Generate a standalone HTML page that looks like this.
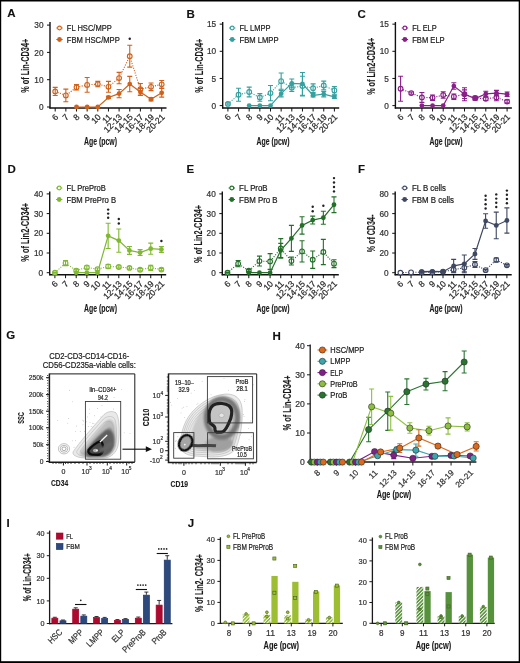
<!DOCTYPE html><html><head><meta charset="utf-8"><style>html,body{margin:0;padding:0;background:#fff;}svg{display:block;will-change:transform;}</style></head><body>
<svg width="520" height="663" viewBox="0 0 520 663" font-family='"Liberation Sans", sans-serif'>
<defs><filter id="bl" filterUnits="userSpaceOnUse" x="0" y="300" width="300" height="200"><feGaussianBlur stdDeviation="1.2"/></filter><filter id="bl2" filterUnits="userSpaceOnUse" x="0" y="300" width="300" height="200"><feGaussianBlur stdDeviation="0.5"/></filter><filter id="bl3" filterUnits="userSpaceOnUse" x="0" y="300" width="300" height="200"><feGaussianBlur stdDeviation="0.75"/></filter><pattern id="hatchL" patternUnits="userSpaceOnUse" width="2.5" height="3" patternTransform="rotate(45)"><rect width="2.5" height="3" fill="#fff"/><rect width="1.5" height="3" fill="#8fb82e"/></pattern><pattern id="hatchD" patternUnits="userSpaceOnUse" width="2.5" height="3" patternTransform="rotate(45)"><rect width="2.5" height="3" fill="#fff"/><rect width="1.5" height="3" fill="#4e8c2f"/></pattern></defs>
<rect x="0" y="0" width="520" height="663" fill="#fff"/>
<text x="7.2" y="17.4" font-size="11.5" text-anchor="start" font-weight="bold" stroke="#111" stroke-width="0.12" fill="#111">A</text>
<text x="186.5" y="17.6" font-size="11.5" text-anchor="start" font-weight="bold" stroke="#111" stroke-width="0.12" fill="#111">B</text>
<text x="357.5" y="17.6" font-size="11.5" text-anchor="start" font-weight="bold" stroke="#111" stroke-width="0.12" fill="#111">C</text>
<g stroke="#111" stroke-width="1.4" fill="none">
<path d="M50 22 V108.6"/>
<path d="M49.4 108 H166.5"/>
<path d="M47 107 H50" stroke-width="1"/>
<path d="M47 79.7 H50" stroke-width="1"/>
<path d="M47 52.4 H50" stroke-width="1"/>
<path d="M47 25.1 H50" stroke-width="1"/>
<path d="M55.2 108 V111.5" stroke-width="1"/>
<path d="M65.85 108 V111.5" stroke-width="1"/>
<path d="M76.5 108 V111.5" stroke-width="1"/>
<path d="M87.15 108 V111.5" stroke-width="1"/>
<path d="M97.8 108 V111.5" stroke-width="1"/>
<path d="M108.45 108 V111.5" stroke-width="1"/>
<path d="M119.1 108 V111.5" stroke-width="1"/>
<path d="M129.75 108 V111.5" stroke-width="1"/>
<path d="M140.4 108 V111.5" stroke-width="1"/>
<path d="M151.05 108 V111.5" stroke-width="1"/>
<path d="M161.7 108 V111.5" stroke-width="1"/>
</g>
<text x="43.5" y="110.1" font-size="8.6" text-anchor="end" stroke="#333" stroke-width="0.22" fill="#333" textLength="4.6" lengthAdjust="spacingAndGlyphs">0</text>
<text x="43.5" y="82.8" font-size="8.6" text-anchor="end" stroke="#333" stroke-width="0.22" fill="#333" textLength="9.2" lengthAdjust="spacingAndGlyphs">10</text>
<text x="43.5" y="55.5" font-size="8.6" text-anchor="end" stroke="#333" stroke-width="0.22" fill="#333" textLength="9.2" lengthAdjust="spacingAndGlyphs">20</text>
<text x="43.5" y="28.2" font-size="8.6" text-anchor="end" stroke="#333" stroke-width="0.22" fill="#333" textLength="9.2" lengthAdjust="spacingAndGlyphs">30</text>
<text x="58.8" y="117.6" font-size="8.6" text-anchor="end" stroke="#2a2a2a" stroke-width="0.22" fill="#2a2a2a" transform="rotate(-45 58.8 117.6)">6</text>
<text x="69.45" y="117.6" font-size="8.6" text-anchor="end" stroke="#2a2a2a" stroke-width="0.22" fill="#2a2a2a" transform="rotate(-45 69.45 117.6)">7</text>
<text x="80.1" y="117.6" font-size="8.6" text-anchor="end" stroke="#2a2a2a" stroke-width="0.22" fill="#2a2a2a" transform="rotate(-45 80.1 117.6)">8</text>
<text x="90.75" y="117.6" font-size="8.6" text-anchor="end" stroke="#2a2a2a" stroke-width="0.22" fill="#2a2a2a" transform="rotate(-45 90.75 117.6)">9</text>
<text x="101.4" y="117.6" font-size="8.6" text-anchor="end" stroke="#2a2a2a" stroke-width="0.22" fill="#2a2a2a" transform="rotate(-45 101.4 117.6)">10</text>
<text x="112.05" y="117.6" font-size="8.6" text-anchor="end" stroke="#2a2a2a" stroke-width="0.22" fill="#2a2a2a" transform="rotate(-45 112.05 117.6)">11</text>
<text x="122.7" y="117.6" font-size="8.6" text-anchor="end" stroke="#2a2a2a" stroke-width="0.22" fill="#2a2a2a" transform="rotate(-45 122.7 117.6)">12-13</text>
<text x="133.35" y="117.6" font-size="8.6" text-anchor="end" stroke="#2a2a2a" stroke-width="0.22" fill="#2a2a2a" transform="rotate(-45 133.35 117.6)">14-15</text>
<text x="144" y="117.6" font-size="8.6" text-anchor="end" stroke="#2a2a2a" stroke-width="0.22" fill="#2a2a2a" transform="rotate(-45 144 117.6)">16-17</text>
<text x="154.65" y="117.6" font-size="8.6" text-anchor="end" stroke="#2a2a2a" stroke-width="0.22" fill="#2a2a2a" transform="rotate(-45 154.65 117.6)">18-19</text>
<text x="165.3" y="117.6" font-size="8.6" text-anchor="end" stroke="#2a2a2a" stroke-width="0.22" fill="#2a2a2a" transform="rotate(-45 165.3 117.6)">20-21</text>
<text x="29" y="65.7" font-size="10" text-anchor="middle" font-weight="bold" stroke="#1a1a1a" stroke-width="0.12" fill="#1a1a1a" textLength="54" lengthAdjust="spacingAndGlyphs" transform="rotate(-90 29 65.7)">% of Lin-CD34+</text>
<polyline points="55.2,91.44 65.85,95.4 76.5,87.34 87.15,84.89 97.8,84.07 108.45,86.8 119.1,78.06 129.75,56.22 140.4,89.25 151.05,86.8 161.7,84.34" fill="none" stroke="#d0611a" stroke-width="1.1" stroke-dasharray="1.1 1.4"/>
<polyline points="76.5,107 87.15,107 97.8,107 108.45,97.44 119.1,93.62 129.75,84.07 140.4,91.98 151.05,99.22 161.7,92.8" fill="none" stroke="#d0611a" stroke-width="1.2"/>
<circle cx="55.2" cy="91.44" r="2.35" fill="#fff" stroke="#d0611a" stroke-width="1.1"/>
<circle cx="65.85" cy="95.4" r="2.35" fill="#fff" stroke="#d0611a" stroke-width="1.1"/>
<circle cx="76.5" cy="87.34" r="2.35" fill="#fff" stroke="#d0611a" stroke-width="1.1"/>
<circle cx="87.15" cy="84.89" r="2.35" fill="#fff" stroke="#d0611a" stroke-width="1.1"/>
<circle cx="97.8" cy="84.07" r="2.35" fill="#fff" stroke="#d0611a" stroke-width="1.1"/>
<circle cx="108.45" cy="86.8" r="2.35" fill="#fff" stroke="#d0611a" stroke-width="1.1"/>
<circle cx="119.1" cy="78.06" r="2.35" fill="#fff" stroke="#d0611a" stroke-width="1.1"/>
<circle cx="129.75" cy="56.22" r="2.35" fill="#fff" stroke="#d0611a" stroke-width="1.1"/>
<circle cx="140.4" cy="89.25" r="2.35" fill="#fff" stroke="#d0611a" stroke-width="1.1"/>
<circle cx="151.05" cy="86.8" r="2.35" fill="#fff" stroke="#d0611a" stroke-width="1.1"/>
<circle cx="161.7" cy="84.34" r="2.35" fill="#fff" stroke="#d0611a" stroke-width="1.1"/>
<circle cx="76.5" cy="107" r="2.4" fill="#d0611a"/>
<circle cx="87.15" cy="107" r="2.4" fill="#d0611a"/>
<circle cx="97.8" cy="107" r="2.4" fill="#d0611a"/>
<circle cx="108.45" cy="97.44" r="2.4" fill="#d0611a"/>
<circle cx="119.1" cy="93.62" r="2.4" fill="#d0611a"/>
<circle cx="129.75" cy="84.07" r="2.4" fill="#d0611a"/>
<circle cx="140.4" cy="91.98" r="2.4" fill="#d0611a"/>
<circle cx="151.05" cy="99.22" r="2.4" fill="#d0611a"/>
<circle cx="161.7" cy="92.8" r="2.4" fill="#d0611a"/>
<g stroke="#d0611a" stroke-width="1.1" fill="none">
<path d="M55.2 87.34 V95.53 M52.7 87.34 h5 M52.7 95.53 h5"/>
<path d="M65.85 89.12 V101.68 M63.35 89.12 h5 M63.35 101.68 h5"/>
<path d="M76.5 84.61 V90.07 M74 84.61 h5 M74 90.07 h5"/>
<path d="M87.15 77.52 V92.26 M84.65 77.52 h5 M84.65 92.26 h5"/>
<path d="M97.8 81.34 V86.8 M95.3 81.34 h5 M95.3 86.8 h5"/>
<path d="M108.45 81.34 V92.26 M105.95 81.34 h5 M105.95 92.26 h5"/>
<path d="M119.1 72.33 V83.8 M116.6 72.33 h5 M116.6 83.8 h5"/>
<path d="M129.75 45.3 V67.14 M127.25 45.3 h5 M127.25 67.14 h5"/>
<path d="M140.4 83.52 V94.99 M137.9 83.52 h5 M137.9 94.99 h5"/>
<path d="M151.05 82.98 V90.62 M148.55 82.98 h5 M148.55 90.62 h5"/>
<path d="M161.7 80.52 V88.16 M159.2 80.52 h5 M159.2 88.16 h5"/>
<path d="M108.45 96.35 V98.54 M105.95 96.35 h5 M105.95 98.54 h5"/>
<path d="M119.1 89.53 V97.72 M116.6 89.53 h5 M116.6 97.72 h5"/>
<path d="M129.75 76.42 V91.71 M127.25 76.42 h5 M127.25 91.71 h5"/>
<path d="M140.4 88.44 V95.53 M137.9 88.44 h5 M137.9 95.53 h5"/>
<path d="M151.05 97.58 V100.86 M148.55 97.58 h5 M148.55 100.86 h5"/>
<path d="M161.7 88.44 V97.17 M159.2 88.44 h5 M159.2 97.17 h5"/>
</g>
<path d="M56.3 28 h6.4 M56.3 39.5 h6.4" stroke="#d0611a" stroke-width="1.1"/>
<circle cx="59.5" cy="28" r="1.9" fill="#fff" stroke="#d0611a" stroke-width="1.1"/>
<circle cx="59.5" cy="39.5" r="2.4" fill="#d0611a"/>
<text x="66.8" y="31" font-size="8.4" text-anchor="start" stroke="#222" stroke-width="0.22" fill="#222" textLength="45" lengthAdjust="spacingAndGlyphs">FL HSC/MPP</text>
<text x="66.8" y="42.5" font-size="8.4" text-anchor="start" stroke="#222" stroke-width="0.22" fill="#222" textLength="53" lengthAdjust="spacingAndGlyphs">FBM HSC/MPP</text>
<circle cx="129.75" cy="38.7" r="1.2" fill="#222"/>
<text x="100.5" y="144.8" font-size="10.2" text-anchor="middle" font-weight="bold" stroke="#1a1a1a" stroke-width="0.12" fill="#1a1a1a" textLength="33" lengthAdjust="spacingAndGlyphs">Age (pcw)</text>
<g stroke="#111" stroke-width="1.4" fill="none">
<path d="M222.7 22 V108.6"/>
<path d="M222.1 108 H339.2"/>
<path d="M219.7 105.6 H222.7" stroke-width="1"/>
<path d="M219.7 78.45 H222.7" stroke-width="1"/>
<path d="M219.7 51.3 H222.7" stroke-width="1"/>
<path d="M219.7 24.15 H222.7" stroke-width="1"/>
<path d="M227.9 108 V111.5" stroke-width="1"/>
<path d="M238.55 108 V111.5" stroke-width="1"/>
<path d="M249.2 108 V111.5" stroke-width="1"/>
<path d="M259.85 108 V111.5" stroke-width="1"/>
<path d="M270.5 108 V111.5" stroke-width="1"/>
<path d="M281.15 108 V111.5" stroke-width="1"/>
<path d="M291.8 108 V111.5" stroke-width="1"/>
<path d="M302.45 108 V111.5" stroke-width="1"/>
<path d="M313.1 108 V111.5" stroke-width="1"/>
<path d="M323.75 108 V111.5" stroke-width="1"/>
<path d="M334.4 108 V111.5" stroke-width="1"/>
</g>
<text x="216.2" y="108.7" font-size="8.6" text-anchor="end" stroke="#333" stroke-width="0.22" fill="#333" textLength="4.6" lengthAdjust="spacingAndGlyphs">0</text>
<text x="216.2" y="81.55" font-size="8.6" text-anchor="end" stroke="#333" stroke-width="0.22" fill="#333" textLength="4.6" lengthAdjust="spacingAndGlyphs">5</text>
<text x="216.2" y="54.4" font-size="8.6" text-anchor="end" stroke="#333" stroke-width="0.22" fill="#333" textLength="9.2" lengthAdjust="spacingAndGlyphs">10</text>
<text x="216.2" y="27.25" font-size="8.6" text-anchor="end" stroke="#333" stroke-width="0.22" fill="#333" textLength="9.2" lengthAdjust="spacingAndGlyphs">15</text>
<text x="231.5" y="117.6" font-size="8.6" text-anchor="end" stroke="#2a2a2a" stroke-width="0.22" fill="#2a2a2a" transform="rotate(-45 231.5 117.6)">6</text>
<text x="242.15" y="117.6" font-size="8.6" text-anchor="end" stroke="#2a2a2a" stroke-width="0.22" fill="#2a2a2a" transform="rotate(-45 242.15 117.6)">7</text>
<text x="252.8" y="117.6" font-size="8.6" text-anchor="end" stroke="#2a2a2a" stroke-width="0.22" fill="#2a2a2a" transform="rotate(-45 252.8 117.6)">8</text>
<text x="263.45" y="117.6" font-size="8.6" text-anchor="end" stroke="#2a2a2a" stroke-width="0.22" fill="#2a2a2a" transform="rotate(-45 263.45 117.6)">9</text>
<text x="274.1" y="117.6" font-size="8.6" text-anchor="end" stroke="#2a2a2a" stroke-width="0.22" fill="#2a2a2a" transform="rotate(-45 274.1 117.6)">10</text>
<text x="284.75" y="117.6" font-size="8.6" text-anchor="end" stroke="#2a2a2a" stroke-width="0.22" fill="#2a2a2a" transform="rotate(-45 284.75 117.6)">11</text>
<text x="295.4" y="117.6" font-size="8.6" text-anchor="end" stroke="#2a2a2a" stroke-width="0.22" fill="#2a2a2a" transform="rotate(-45 295.4 117.6)">12-13</text>
<text x="306.05" y="117.6" font-size="8.6" text-anchor="end" stroke="#2a2a2a" stroke-width="0.22" fill="#2a2a2a" transform="rotate(-45 306.05 117.6)">14-15</text>
<text x="316.7" y="117.6" font-size="8.6" text-anchor="end" stroke="#2a2a2a" stroke-width="0.22" fill="#2a2a2a" transform="rotate(-45 316.7 117.6)">16-17</text>
<text x="327.35" y="117.6" font-size="8.6" text-anchor="end" stroke="#2a2a2a" stroke-width="0.22" fill="#2a2a2a" transform="rotate(-45 327.35 117.6)">18-19</text>
<text x="338" y="117.6" font-size="8.6" text-anchor="end" stroke="#2a2a2a" stroke-width="0.22" fill="#2a2a2a" transform="rotate(-45 338 117.6)">20-21</text>
<text x="203" y="65.7" font-size="10" text-anchor="middle" font-weight="bold" stroke="#1a1a1a" stroke-width="0.12" fill="#1a1a1a" textLength="54" lengthAdjust="spacingAndGlyphs" transform="rotate(-90 203 65.7)">% of Lin-CD34+</text>
<polyline points="227.9,103.97 238.55,94.74 249.2,92.02 259.85,97.45 270.5,93.11 281.15,81.16 291.8,87.68 302.45,86.05 313.1,88.22 323.75,85.51 334.4,90.4" fill="none" stroke="#35a0a0" stroke-width="1.1" stroke-dasharray="1.1 1.4"/>
<polyline points="249.2,105.6 259.85,105.6 270.5,105.6 281.15,93.65 291.8,83.34 302.45,83.88 313.1,95.28 323.75,94.2 334.4,96.91" fill="none" stroke="#35a0a0" stroke-width="1.2"/>
<circle cx="227.9" cy="103.97" r="2.35" fill="#fff" stroke="#35a0a0" stroke-width="1.1"/>
<circle cx="238.55" cy="94.74" r="2.35" fill="#fff" stroke="#35a0a0" stroke-width="1.1"/>
<circle cx="249.2" cy="92.02" r="2.35" fill="#fff" stroke="#35a0a0" stroke-width="1.1"/>
<circle cx="259.85" cy="97.45" r="2.35" fill="#fff" stroke="#35a0a0" stroke-width="1.1"/>
<circle cx="270.5" cy="93.11" r="2.35" fill="#fff" stroke="#35a0a0" stroke-width="1.1"/>
<circle cx="281.15" cy="81.16" r="2.35" fill="#fff" stroke="#35a0a0" stroke-width="1.1"/>
<circle cx="291.8" cy="87.68" r="2.35" fill="#fff" stroke="#35a0a0" stroke-width="1.1"/>
<circle cx="302.45" cy="86.05" r="2.35" fill="#fff" stroke="#35a0a0" stroke-width="1.1"/>
<circle cx="313.1" cy="88.22" r="2.35" fill="#fff" stroke="#35a0a0" stroke-width="1.1"/>
<circle cx="323.75" cy="85.51" r="2.35" fill="#fff" stroke="#35a0a0" stroke-width="1.1"/>
<circle cx="334.4" cy="90.4" r="2.35" fill="#fff" stroke="#35a0a0" stroke-width="1.1"/>
<circle cx="249.2" cy="105.6" r="2.4" fill="#35a0a0"/>
<circle cx="259.85" cy="105.6" r="2.4" fill="#35a0a0"/>
<circle cx="270.5" cy="105.6" r="2.4" fill="#35a0a0"/>
<circle cx="281.15" cy="93.65" r="2.4" fill="#35a0a0"/>
<circle cx="291.8" cy="83.34" r="2.4" fill="#35a0a0"/>
<circle cx="302.45" cy="83.88" r="2.4" fill="#35a0a0"/>
<circle cx="313.1" cy="95.28" r="2.4" fill="#35a0a0"/>
<circle cx="323.75" cy="94.2" r="2.4" fill="#35a0a0"/>
<circle cx="334.4" cy="96.91" r="2.4" fill="#35a0a0"/>
<g stroke="#35a0a0" stroke-width="1.1" fill="none">
<path d="M227.9 102.88 V105.06 M225.4 102.88 h5 M225.4 105.06 h5"/>
<path d="M238.55 88.22 V101.26 M236.05 88.22 h5 M236.05 101.26 h5"/>
<path d="M249.2 87.14 V96.91 M246.7 87.14 h5 M246.7 96.91 h5"/>
<path d="M259.85 93.65 V101.26 M257.35 93.65 h5 M257.35 101.26 h5"/>
<path d="M270.5 85.51 V100.71 M268 85.51 h5 M268 100.71 h5"/>
<path d="M281.15 73.02 V89.31 M278.65 73.02 h5 M278.65 89.31 h5"/>
<path d="M291.8 83.88 V91.48 M289.3 83.88 h5 M289.3 91.48 h5"/>
<path d="M302.45 76.28 V95.83 M299.95 76.28 h5 M299.95 95.83 h5"/>
<path d="M313.1 83.88 V92.57 M310.6 83.88 h5 M310.6 92.57 h5"/>
<path d="M323.75 81.16 V89.85 M321.25 81.16 h5 M321.25 89.85 h5"/>
<path d="M334.4 86.59 V94.2 M331.9 86.59 h5 M331.9 94.2 h5"/>
<path d="M281.15 90.4 V96.91 M278.65 90.4 h5 M278.65 96.91 h5"/>
<path d="M291.8 78.99 V87.68 M289.3 78.99 h5 M289.3 87.68 h5"/>
<path d="M302.45 72.48 V95.28 M299.95 72.48 h5 M299.95 95.28 h5"/>
<path d="M313.1 93.65 V96.91 M310.6 93.65 h5 M310.6 96.91 h5"/>
<path d="M323.75 91.48 V96.91 M321.25 91.48 h5 M321.25 96.91 h5"/>
<path d="M334.4 95.28 V98.54 M331.9 95.28 h5 M331.9 98.54 h5"/>
</g>
<path d="M229 28 h6.4 M229 39.5 h6.4" stroke="#35a0a0" stroke-width="1.1"/>
<circle cx="232.2" cy="28" r="1.9" fill="#fff" stroke="#35a0a0" stroke-width="1.1"/>
<circle cx="232.2" cy="39.5" r="2.4" fill="#35a0a0"/>
<text x="239.5" y="31" font-size="8.4" text-anchor="start" stroke="#222" stroke-width="0.22" fill="#222" textLength="31" lengthAdjust="spacingAndGlyphs">FL LMPP</text>
<text x="239.5" y="42.5" font-size="8.4" text-anchor="start" stroke="#222" stroke-width="0.22" fill="#222" textLength="39" lengthAdjust="spacingAndGlyphs">FBM LMPP</text>
<text x="273" y="144.8" font-size="10.2" text-anchor="middle" font-weight="bold" stroke="#1a1a1a" stroke-width="0.12" fill="#1a1a1a" textLength="33" lengthAdjust="spacingAndGlyphs">Age (pcw)</text>
<g stroke="#111" stroke-width="1.4" fill="none">
<path d="M395.4 22 V108.6"/>
<path d="M394.8 108 H511.9"/>
<path d="M392.4 105.6 H395.4" stroke-width="1"/>
<path d="M392.4 78.45 H395.4" stroke-width="1"/>
<path d="M392.4 51.3 H395.4" stroke-width="1"/>
<path d="M392.4 24.15 H395.4" stroke-width="1"/>
<path d="M400.6 108 V111.5" stroke-width="1"/>
<path d="M411.25 108 V111.5" stroke-width="1"/>
<path d="M421.9 108 V111.5" stroke-width="1"/>
<path d="M432.55 108 V111.5" stroke-width="1"/>
<path d="M443.2 108 V111.5" stroke-width="1"/>
<path d="M453.85 108 V111.5" stroke-width="1"/>
<path d="M464.5 108 V111.5" stroke-width="1"/>
<path d="M475.15 108 V111.5" stroke-width="1"/>
<path d="M485.8 108 V111.5" stroke-width="1"/>
<path d="M496.45 108 V111.5" stroke-width="1"/>
<path d="M507.1 108 V111.5" stroke-width="1"/>
</g>
<text x="388.9" y="108.7" font-size="8.6" text-anchor="end" stroke="#333" stroke-width="0.22" fill="#333" textLength="4.6" lengthAdjust="spacingAndGlyphs">0</text>
<text x="388.9" y="81.55" font-size="8.6" text-anchor="end" stroke="#333" stroke-width="0.22" fill="#333" textLength="4.6" lengthAdjust="spacingAndGlyphs">5</text>
<text x="388.9" y="54.4" font-size="8.6" text-anchor="end" stroke="#333" stroke-width="0.22" fill="#333" textLength="9.2" lengthAdjust="spacingAndGlyphs">10</text>
<text x="388.9" y="27.25" font-size="8.6" text-anchor="end" stroke="#333" stroke-width="0.22" fill="#333" textLength="9.2" lengthAdjust="spacingAndGlyphs">15</text>
<text x="404.2" y="117.6" font-size="8.6" text-anchor="end" stroke="#2a2a2a" stroke-width="0.22" fill="#2a2a2a" transform="rotate(-45 404.2 117.6)">6</text>
<text x="414.85" y="117.6" font-size="8.6" text-anchor="end" stroke="#2a2a2a" stroke-width="0.22" fill="#2a2a2a" transform="rotate(-45 414.85 117.6)">7</text>
<text x="425.5" y="117.6" font-size="8.6" text-anchor="end" stroke="#2a2a2a" stroke-width="0.22" fill="#2a2a2a" transform="rotate(-45 425.5 117.6)">8</text>
<text x="436.15" y="117.6" font-size="8.6" text-anchor="end" stroke="#2a2a2a" stroke-width="0.22" fill="#2a2a2a" transform="rotate(-45 436.15 117.6)">9</text>
<text x="446.8" y="117.6" font-size="8.6" text-anchor="end" stroke="#2a2a2a" stroke-width="0.22" fill="#2a2a2a" transform="rotate(-45 446.8 117.6)">10</text>
<text x="457.45" y="117.6" font-size="8.6" text-anchor="end" stroke="#2a2a2a" stroke-width="0.22" fill="#2a2a2a" transform="rotate(-45 457.45 117.6)">11</text>
<text x="468.1" y="117.6" font-size="8.6" text-anchor="end" stroke="#2a2a2a" stroke-width="0.22" fill="#2a2a2a" transform="rotate(-45 468.1 117.6)">12-13</text>
<text x="478.75" y="117.6" font-size="8.6" text-anchor="end" stroke="#2a2a2a" stroke-width="0.22" fill="#2a2a2a" transform="rotate(-45 478.75 117.6)">14-15</text>
<text x="489.4" y="117.6" font-size="8.6" text-anchor="end" stroke="#2a2a2a" stroke-width="0.22" fill="#2a2a2a" transform="rotate(-45 489.4 117.6)">16-17</text>
<text x="500.05" y="117.6" font-size="8.6" text-anchor="end" stroke="#2a2a2a" stroke-width="0.22" fill="#2a2a2a" transform="rotate(-45 500.05 117.6)">18-19</text>
<text x="510.7" y="117.6" font-size="8.6" text-anchor="end" stroke="#2a2a2a" stroke-width="0.22" fill="#2a2a2a" transform="rotate(-45 510.7 117.6)">20-21</text>
<text x="374.8" y="66.3" font-size="10" text-anchor="middle" font-weight="bold" stroke="#1a1a1a" stroke-width="0.12" fill="#1a1a1a" textLength="57" lengthAdjust="spacingAndGlyphs" transform="rotate(-90 374.8 66.3)">% of Lin2-CD34+</text>
<polyline points="400.6,88.77 411.25,93.11 421.9,97.45 432.55,97.73 443.2,95.01 453.85,96.64 464.5,94.2 475.15,98 485.8,98.81 496.45,97.45 507.1,101.53" fill="none" stroke="#8a1f8a" stroke-width="1.1" stroke-dasharray="1.1 1.4"/>
<polyline points="421.9,105.6 432.55,105.6 443.2,105.6 453.85,86.05 464.5,94.2 475.15,98.54 485.8,93.93 496.45,93.11 507.1,94.2" fill="none" stroke="#8a1f8a" stroke-width="1.2"/>
<circle cx="400.6" cy="88.77" r="2.35" fill="#fff" stroke="#8a1f8a" stroke-width="1.1"/>
<circle cx="411.25" cy="93.11" r="2.35" fill="#fff" stroke="#8a1f8a" stroke-width="1.1"/>
<circle cx="421.9" cy="97.45" r="2.35" fill="#fff" stroke="#8a1f8a" stroke-width="1.1"/>
<circle cx="432.55" cy="97.73" r="2.35" fill="#fff" stroke="#8a1f8a" stroke-width="1.1"/>
<circle cx="443.2" cy="95.01" r="2.35" fill="#fff" stroke="#8a1f8a" stroke-width="1.1"/>
<circle cx="453.85" cy="96.64" r="2.35" fill="#fff" stroke="#8a1f8a" stroke-width="1.1"/>
<circle cx="464.5" cy="94.2" r="2.35" fill="#fff" stroke="#8a1f8a" stroke-width="1.1"/>
<circle cx="475.15" cy="98" r="2.35" fill="#fff" stroke="#8a1f8a" stroke-width="1.1"/>
<circle cx="485.8" cy="98.81" r="2.35" fill="#fff" stroke="#8a1f8a" stroke-width="1.1"/>
<circle cx="496.45" cy="97.45" r="2.35" fill="#fff" stroke="#8a1f8a" stroke-width="1.1"/>
<circle cx="507.1" cy="101.53" r="2.35" fill="#fff" stroke="#8a1f8a" stroke-width="1.1"/>
<circle cx="421.9" cy="105.6" r="2.4" fill="#8a1f8a"/>
<circle cx="432.55" cy="105.6" r="2.4" fill="#8a1f8a"/>
<circle cx="443.2" cy="105.6" r="2.4" fill="#8a1f8a"/>
<circle cx="453.85" cy="86.05" r="2.4" fill="#8a1f8a"/>
<circle cx="464.5" cy="94.2" r="2.4" fill="#8a1f8a"/>
<circle cx="475.15" cy="98.54" r="2.4" fill="#8a1f8a"/>
<circle cx="485.8" cy="93.93" r="2.4" fill="#8a1f8a"/>
<circle cx="496.45" cy="93.11" r="2.4" fill="#8a1f8a"/>
<circle cx="507.1" cy="94.2" r="2.4" fill="#8a1f8a"/>
<g stroke="#8a1f8a" stroke-width="1.1" fill="none">
<path d="M400.6 76.28 V101.26 M398.1 76.28 h5 M398.1 101.26 h5"/>
<path d="M411.25 92.02 V94.2 M408.75 92.02 h5 M408.75 94.2 h5"/>
<path d="M421.9 92.57 V102.34 M419.4 92.57 h5 M419.4 102.34 h5"/>
<path d="M432.55 95.01 V100.44 M430.05 95.01 h5 M430.05 100.44 h5"/>
<path d="M443.2 91.75 V98.27 M440.7 91.75 h5 M440.7 98.27 h5"/>
<path d="M453.85 93.93 V99.36 M451.35 93.93 h5 M451.35 99.36 h5"/>
<path d="M464.5 89.85 V98.54 M462 89.85 h5 M462 98.54 h5"/>
<path d="M475.15 96.37 V99.63 M472.65 96.37 h5 M472.65 99.63 h5"/>
<path d="M485.8 97.18 V100.44 M483.3 97.18 h5 M483.3 100.44 h5"/>
<path d="M496.45 94.2 V100.71 M493.95 94.2 h5 M493.95 100.71 h5"/>
<path d="M507.1 99.9 V103.16 M504.6 99.9 h5 M504.6 103.16 h5"/>
<path d="M453.85 82.79 V89.31 M451.35 82.79 h5 M451.35 89.31 h5"/>
<path d="M464.5 87.68 V100.71 M462 87.68 h5 M462 100.71 h5"/>
<path d="M475.15 96.91 V100.17 M472.65 96.91 h5 M472.65 100.17 h5"/>
<path d="M485.8 91.21 V96.64 M483.3 91.21 h5 M483.3 96.64 h5"/>
<path d="M496.45 90.4 V95.83 M493.95 90.4 h5 M493.95 95.83 h5"/>
<path d="M507.1 92.02 V96.37 M504.6 92.02 h5 M504.6 96.37 h5"/>
</g>
<path d="M401.7 28 h6.4 M401.7 39.5 h6.4" stroke="#8a1f8a" stroke-width="1.1"/>
<circle cx="404.9" cy="28" r="1.9" fill="#fff" stroke="#8a1f8a" stroke-width="1.1"/>
<circle cx="404.9" cy="39.5" r="2.4" fill="#8a1f8a"/>
<text x="412.2" y="31" font-size="8.4" text-anchor="start" stroke="#222" stroke-width="0.22" fill="#222" textLength="24.5" lengthAdjust="spacingAndGlyphs">FL ELP</text>
<text x="412.2" y="42.5" font-size="8.4" text-anchor="start" stroke="#222" stroke-width="0.22" fill="#222" textLength="32.5" lengthAdjust="spacingAndGlyphs">FBM ELP</text>
<text x="446" y="144.8" font-size="10.2" text-anchor="middle" font-weight="bold" stroke="#1a1a1a" stroke-width="0.12" fill="#1a1a1a" textLength="33" lengthAdjust="spacingAndGlyphs">Age (pcw)</text>
<text x="7.5" y="173.3" font-size="11.5" text-anchor="start" font-weight="bold" stroke="#111" stroke-width="0.12" fill="#111">D</text>
<text x="186.5" y="173" font-size="11.5" text-anchor="start" font-weight="bold" stroke="#111" stroke-width="0.12" fill="#111">E</text>
<text x="358" y="173" font-size="11.5" text-anchor="start" font-weight="bold" stroke="#111" stroke-width="0.12" fill="#111">F</text>
<g stroke="#111" stroke-width="1.4" fill="none">
<path d="M49.7 191.5 V275.3"/>
<path d="M49.1 274.7 H166.2"/>
<path d="M46.7 272.7 H49.7" stroke-width="1"/>
<path d="M46.7 253 H49.7" stroke-width="1"/>
<path d="M46.7 233.3 H49.7" stroke-width="1"/>
<path d="M46.7 213.6 H49.7" stroke-width="1"/>
<path d="M46.7 193.9 H49.7" stroke-width="1"/>
<path d="M54.9 274.7 V278.2" stroke-width="1"/>
<path d="M65.55 274.7 V278.2" stroke-width="1"/>
<path d="M76.2 274.7 V278.2" stroke-width="1"/>
<path d="M86.85 274.7 V278.2" stroke-width="1"/>
<path d="M97.5 274.7 V278.2" stroke-width="1"/>
<path d="M108.15 274.7 V278.2" stroke-width="1"/>
<path d="M118.8 274.7 V278.2" stroke-width="1"/>
<path d="M129.45 274.7 V278.2" stroke-width="1"/>
<path d="M140.1 274.7 V278.2" stroke-width="1"/>
<path d="M150.75 274.7 V278.2" stroke-width="1"/>
<path d="M161.4 274.7 V278.2" stroke-width="1"/>
</g>
<text x="43.2" y="275.8" font-size="8.6" text-anchor="end" stroke="#333" stroke-width="0.22" fill="#333" textLength="4.6" lengthAdjust="spacingAndGlyphs">0</text>
<text x="43.2" y="256.1" font-size="8.6" text-anchor="end" stroke="#333" stroke-width="0.22" fill="#333" textLength="9.2" lengthAdjust="spacingAndGlyphs">10</text>
<text x="43.2" y="236.4" font-size="8.6" text-anchor="end" stroke="#333" stroke-width="0.22" fill="#333" textLength="9.2" lengthAdjust="spacingAndGlyphs">20</text>
<text x="43.2" y="216.7" font-size="8.6" text-anchor="end" stroke="#333" stroke-width="0.22" fill="#333" textLength="9.2" lengthAdjust="spacingAndGlyphs">30</text>
<text x="43.2" y="197" font-size="8.6" text-anchor="end" stroke="#333" stroke-width="0.22" fill="#333" textLength="9.2" lengthAdjust="spacingAndGlyphs">40</text>
<text x="58.5" y="284.3" font-size="8.6" text-anchor="end" stroke="#2a2a2a" stroke-width="0.22" fill="#2a2a2a" transform="rotate(-45 58.5 284.3)">6</text>
<text x="69.15" y="284.3" font-size="8.6" text-anchor="end" stroke="#2a2a2a" stroke-width="0.22" fill="#2a2a2a" transform="rotate(-45 69.15 284.3)">7</text>
<text x="79.8" y="284.3" font-size="8.6" text-anchor="end" stroke="#2a2a2a" stroke-width="0.22" fill="#2a2a2a" transform="rotate(-45 79.8 284.3)">8</text>
<text x="90.45" y="284.3" font-size="8.6" text-anchor="end" stroke="#2a2a2a" stroke-width="0.22" fill="#2a2a2a" transform="rotate(-45 90.45 284.3)">9</text>
<text x="101.1" y="284.3" font-size="8.6" text-anchor="end" stroke="#2a2a2a" stroke-width="0.22" fill="#2a2a2a" transform="rotate(-45 101.1 284.3)">10</text>
<text x="111.75" y="284.3" font-size="8.6" text-anchor="end" stroke="#2a2a2a" stroke-width="0.22" fill="#2a2a2a" transform="rotate(-45 111.75 284.3)">11</text>
<text x="122.4" y="284.3" font-size="8.6" text-anchor="end" stroke="#2a2a2a" stroke-width="0.22" fill="#2a2a2a" transform="rotate(-45 122.4 284.3)">12-13</text>
<text x="133.05" y="284.3" font-size="8.6" text-anchor="end" stroke="#2a2a2a" stroke-width="0.22" fill="#2a2a2a" transform="rotate(-45 133.05 284.3)">14-15</text>
<text x="143.7" y="284.3" font-size="8.6" text-anchor="end" stroke="#2a2a2a" stroke-width="0.22" fill="#2a2a2a" transform="rotate(-45 143.7 284.3)">16-17</text>
<text x="154.35" y="284.3" font-size="8.6" text-anchor="end" stroke="#2a2a2a" stroke-width="0.22" fill="#2a2a2a" transform="rotate(-45 154.35 284.3)">18-19</text>
<text x="165" y="284.3" font-size="8.6" text-anchor="end" stroke="#2a2a2a" stroke-width="0.22" fill="#2a2a2a" transform="rotate(-45 165 284.3)">20-21</text>
<text x="29.2" y="232.3" font-size="10" text-anchor="middle" font-weight="bold" stroke="#1a1a1a" stroke-width="0.12" fill="#1a1a1a" textLength="59" lengthAdjust="spacingAndGlyphs" transform="rotate(-90 29.2 232.3)">% of Lin2-CD34+</text>
<polyline points="54.9,272.7 65.55,263.05 76.2,270.53 86.85,267.38 97.5,269.15 108.15,266.4 118.8,266.99 129.45,267.97 140.1,269.75 150.75,267.77 161.4,269.55" fill="none" stroke="#80b832" stroke-width="1.1" stroke-dasharray="1.1 1.4"/>
<polyline points="76.2,272.7 86.85,272.7 97.5,272.7 108.15,235.86 118.8,240.59 129.45,250.44 140.1,252.61 150.75,248.67 161.4,249.45" fill="none" stroke="#80b832" stroke-width="1.2"/>
<circle cx="54.9" cy="272.7" r="2.35" fill="#fff" stroke="#80b832" stroke-width="1.1"/>
<circle cx="65.55" cy="263.05" r="2.35" fill="#fff" stroke="#80b832" stroke-width="1.1"/>
<circle cx="76.2" cy="270.53" r="2.35" fill="#fff" stroke="#80b832" stroke-width="1.1"/>
<circle cx="86.85" cy="267.38" r="2.35" fill="#fff" stroke="#80b832" stroke-width="1.1"/>
<circle cx="97.5" cy="269.15" r="2.35" fill="#fff" stroke="#80b832" stroke-width="1.1"/>
<circle cx="108.15" cy="266.4" r="2.35" fill="#fff" stroke="#80b832" stroke-width="1.1"/>
<circle cx="118.8" cy="266.99" r="2.35" fill="#fff" stroke="#80b832" stroke-width="1.1"/>
<circle cx="129.45" cy="267.97" r="2.35" fill="#fff" stroke="#80b832" stroke-width="1.1"/>
<circle cx="140.1" cy="269.75" r="2.35" fill="#fff" stroke="#80b832" stroke-width="1.1"/>
<circle cx="150.75" cy="267.77" r="2.35" fill="#fff" stroke="#80b832" stroke-width="1.1"/>
<circle cx="161.4" cy="269.55" r="2.35" fill="#fff" stroke="#80b832" stroke-width="1.1"/>
<circle cx="76.2" cy="272.7" r="2.4" fill="#80b832"/>
<circle cx="86.85" cy="272.7" r="2.4" fill="#80b832"/>
<circle cx="97.5" cy="272.7" r="2.4" fill="#80b832"/>
<circle cx="108.15" cy="235.86" r="2.4" fill="#80b832"/>
<circle cx="118.8" cy="240.59" r="2.4" fill="#80b832"/>
<circle cx="129.45" cy="250.44" r="2.4" fill="#80b832"/>
<circle cx="140.1" cy="252.61" r="2.4" fill="#80b832"/>
<circle cx="150.75" cy="248.67" r="2.4" fill="#80b832"/>
<circle cx="161.4" cy="249.45" r="2.4" fill="#80b832"/>
<g stroke="#80b832" stroke-width="1.1" fill="none">
<path d="M54.9 272.11 V273.29 M52.4 272.11 h5 M52.4 273.29 h5"/>
<path d="M65.55 260.49 V265.61 M63.05 260.49 h5 M63.05 265.61 h5"/>
<path d="M76.2 269.15 V271.91 M73.7 269.15 h5 M73.7 271.91 h5"/>
<path d="M86.85 265.81 V268.96 M84.35 265.81 h5 M84.35 268.96 h5"/>
<path d="M97.5 267.97 V270.34 M95 267.97 h5 M95 270.34 h5"/>
<path d="M108.15 264.43 V268.37 M105.65 264.43 h5 M105.65 268.37 h5"/>
<path d="M118.8 265.81 V268.17 M116.3 265.81 h5 M116.3 268.17 h5"/>
<path d="M129.45 266.79 V269.15 M126.95 266.79 h5 M126.95 269.15 h5"/>
<path d="M140.1 268.56 V270.93 M137.6 268.56 h5 M137.6 270.93 h5"/>
<path d="M150.75 265.21 V270.34 M148.25 265.21 h5 M148.25 270.34 h5"/>
<path d="M161.4 268.37 V270.73 M158.9 268.37 h5 M158.9 270.73 h5"/>
<path d="M108.15 223.25 V248.47 M105.65 223.25 h5 M105.65 248.47 h5"/>
<path d="M118.8 228.97 V252.21 M116.3 228.97 h5 M116.3 252.21 h5"/>
<path d="M129.45 246.5 V254.38 M126.95 246.5 h5 M126.95 254.38 h5"/>
<path d="M140.1 249.65 V255.56 M137.6 249.65 h5 M137.6 255.56 h5"/>
<path d="M150.75 243.15 V254.18 M148.25 243.15 h5 M148.25 254.18 h5"/>
<path d="M161.4 246.5 V252.41 M158.9 246.5 h5 M158.9 252.41 h5"/>
</g>
<path d="M56 188 h6.4 M56 199.5 h6.4" stroke="#80b832" stroke-width="1.1"/>
<circle cx="59.2" cy="188" r="1.9" fill="#fff" stroke="#80b832" stroke-width="1.1"/>
<circle cx="59.2" cy="199.5" r="2.4" fill="#80b832"/>
<text x="66.5" y="191" font-size="8.4" text-anchor="start" stroke="#222" stroke-width="0.22" fill="#222" textLength="39.3" lengthAdjust="spacingAndGlyphs">FL PreProB</text>
<text x="66.5" y="202.5" font-size="8.4" text-anchor="start" stroke="#222" stroke-width="0.22" fill="#222" textLength="49.5" lengthAdjust="spacingAndGlyphs">FBM PrePro B</text>
<circle cx="108.15" cy="209.6" r="1.2" fill="#222"/>
<circle cx="108.15" cy="213.6" r="1.2" fill="#222"/>
<circle cx="108.15" cy="217.7" r="1.2" fill="#222"/>
<circle cx="118.8" cy="219" r="1.2" fill="#222"/>
<circle cx="118.8" cy="223.5" r="1.2" fill="#222"/>
<circle cx="161.4" cy="241" r="1.2" fill="#222"/>
<text x="100.5" y="311.5" font-size="10.2" text-anchor="middle" font-weight="bold" stroke="#1a1a1a" stroke-width="0.12" fill="#1a1a1a" textLength="33" lengthAdjust="spacingAndGlyphs">Age (pcw)</text>
<g stroke="#111" stroke-width="1.4" fill="none">
<path d="M222.3 191.5 V275.3"/>
<path d="M221.7 274.7 H338.8"/>
<path d="M219.3 272.7 H222.3" stroke-width="1"/>
<path d="M219.3 253 H222.3" stroke-width="1"/>
<path d="M219.3 233.3 H222.3" stroke-width="1"/>
<path d="M219.3 213.6 H222.3" stroke-width="1"/>
<path d="M219.3 193.9 H222.3" stroke-width="1"/>
<path d="M227.5 274.7 V278.2" stroke-width="1"/>
<path d="M238.15 274.7 V278.2" stroke-width="1"/>
<path d="M248.8 274.7 V278.2" stroke-width="1"/>
<path d="M259.45 274.7 V278.2" stroke-width="1"/>
<path d="M270.1 274.7 V278.2" stroke-width="1"/>
<path d="M280.75 274.7 V278.2" stroke-width="1"/>
<path d="M291.4 274.7 V278.2" stroke-width="1"/>
<path d="M302.05 274.7 V278.2" stroke-width="1"/>
<path d="M312.7 274.7 V278.2" stroke-width="1"/>
<path d="M323.35 274.7 V278.2" stroke-width="1"/>
<path d="M334 274.7 V278.2" stroke-width="1"/>
</g>
<text x="215.8" y="275.8" font-size="8.6" text-anchor="end" stroke="#333" stroke-width="0.22" fill="#333" textLength="4.6" lengthAdjust="spacingAndGlyphs">0</text>
<text x="215.8" y="256.1" font-size="8.6" text-anchor="end" stroke="#333" stroke-width="0.22" fill="#333" textLength="9.2" lengthAdjust="spacingAndGlyphs">10</text>
<text x="215.8" y="236.4" font-size="8.6" text-anchor="end" stroke="#333" stroke-width="0.22" fill="#333" textLength="9.2" lengthAdjust="spacingAndGlyphs">20</text>
<text x="215.8" y="216.7" font-size="8.6" text-anchor="end" stroke="#333" stroke-width="0.22" fill="#333" textLength="9.2" lengthAdjust="spacingAndGlyphs">30</text>
<text x="215.8" y="197" font-size="8.6" text-anchor="end" stroke="#333" stroke-width="0.22" fill="#333" textLength="9.2" lengthAdjust="spacingAndGlyphs">40</text>
<text x="231.1" y="284.3" font-size="8.6" text-anchor="end" stroke="#2a2a2a" stroke-width="0.22" fill="#2a2a2a" transform="rotate(-45 231.1 284.3)">6</text>
<text x="241.75" y="284.3" font-size="8.6" text-anchor="end" stroke="#2a2a2a" stroke-width="0.22" fill="#2a2a2a" transform="rotate(-45 241.75 284.3)">7</text>
<text x="252.4" y="284.3" font-size="8.6" text-anchor="end" stroke="#2a2a2a" stroke-width="0.22" fill="#2a2a2a" transform="rotate(-45 252.4 284.3)">8</text>
<text x="263.05" y="284.3" font-size="8.6" text-anchor="end" stroke="#2a2a2a" stroke-width="0.22" fill="#2a2a2a" transform="rotate(-45 263.05 284.3)">9</text>
<text x="273.7" y="284.3" font-size="8.6" text-anchor="end" stroke="#2a2a2a" stroke-width="0.22" fill="#2a2a2a" transform="rotate(-45 273.7 284.3)">10</text>
<text x="284.35" y="284.3" font-size="8.6" text-anchor="end" stroke="#2a2a2a" stroke-width="0.22" fill="#2a2a2a" transform="rotate(-45 284.35 284.3)">11</text>
<text x="295" y="284.3" font-size="8.6" text-anchor="end" stroke="#2a2a2a" stroke-width="0.22" fill="#2a2a2a" transform="rotate(-45 295 284.3)">12-13</text>
<text x="305.65" y="284.3" font-size="8.6" text-anchor="end" stroke="#2a2a2a" stroke-width="0.22" fill="#2a2a2a" transform="rotate(-45 305.65 284.3)">14-15</text>
<text x="316.3" y="284.3" font-size="8.6" text-anchor="end" stroke="#2a2a2a" stroke-width="0.22" fill="#2a2a2a" transform="rotate(-45 316.3 284.3)">16-17</text>
<text x="326.95" y="284.3" font-size="8.6" text-anchor="end" stroke="#2a2a2a" stroke-width="0.22" fill="#2a2a2a" transform="rotate(-45 326.95 284.3)">18-19</text>
<text x="337.6" y="284.3" font-size="8.6" text-anchor="end" stroke="#2a2a2a" stroke-width="0.22" fill="#2a2a2a" transform="rotate(-45 337.6 284.3)">20-21</text>
<text x="201.6" y="233.9" font-size="10" text-anchor="middle" font-weight="bold" stroke="#1a1a1a" stroke-width="0.12" fill="#1a1a1a" textLength="58" lengthAdjust="spacingAndGlyphs" transform="rotate(-90 201.6 233.9)">% of Lin2-CD34+</text>
<polyline points="227.5,272.7 238.15,263.64 248.8,270.73 259.45,261.08 270.1,261.47 280.75,248.47 291.4,261.08 302.05,251.42 312.7,259.7 323.35,252.01 334,263.64" fill="none" stroke="#237028" stroke-width="1.1" stroke-dasharray="1.1 1.4"/>
<polyline points="248.8,272.7 259.45,272.7 270.1,272.7 280.75,250.44 291.4,238.42 302.05,225.42 312.7,220.1 323.35,217.74 334,204.73" fill="none" stroke="#237028" stroke-width="1.2"/>
<circle cx="227.5" cy="272.7" r="2.35" fill="#fff" stroke="#237028" stroke-width="1.1"/>
<circle cx="238.15" cy="263.64" r="2.35" fill="#fff" stroke="#237028" stroke-width="1.1"/>
<circle cx="248.8" cy="270.73" r="2.35" fill="#fff" stroke="#237028" stroke-width="1.1"/>
<circle cx="259.45" cy="261.08" r="2.35" fill="#fff" stroke="#237028" stroke-width="1.1"/>
<circle cx="270.1" cy="261.47" r="2.35" fill="#fff" stroke="#237028" stroke-width="1.1"/>
<circle cx="280.75" cy="248.47" r="2.35" fill="#fff" stroke="#237028" stroke-width="1.1"/>
<circle cx="291.4" cy="261.08" r="2.35" fill="#fff" stroke="#237028" stroke-width="1.1"/>
<circle cx="302.05" cy="251.42" r="2.35" fill="#fff" stroke="#237028" stroke-width="1.1"/>
<circle cx="312.7" cy="259.7" r="2.35" fill="#fff" stroke="#237028" stroke-width="1.1"/>
<circle cx="323.35" cy="252.01" r="2.35" fill="#fff" stroke="#237028" stroke-width="1.1"/>
<circle cx="334" cy="263.64" r="2.35" fill="#fff" stroke="#237028" stroke-width="1.1"/>
<circle cx="248.8" cy="272.7" r="2.4" fill="#237028"/>
<circle cx="259.45" cy="272.7" r="2.4" fill="#237028"/>
<circle cx="270.1" cy="272.7" r="2.4" fill="#237028"/>
<circle cx="280.75" cy="250.44" r="2.4" fill="#237028"/>
<circle cx="291.4" cy="238.42" r="2.4" fill="#237028"/>
<circle cx="302.05" cy="225.42" r="2.4" fill="#237028"/>
<circle cx="312.7" cy="220.1" r="2.4" fill="#237028"/>
<circle cx="323.35" cy="217.74" r="2.4" fill="#237028"/>
<circle cx="334" cy="204.73" r="2.4" fill="#237028"/>
<g stroke="#237028" stroke-width="1.1" fill="none">
<path d="M227.5 272.11 V273.29 M225 272.11 h5 M225 273.29 h5"/>
<path d="M238.15 260.49 V266.79 M235.65 260.49 h5 M235.65 266.79 h5"/>
<path d="M248.8 269.55 V271.91 M246.3 269.55 h5 M246.3 271.91 h5"/>
<path d="M259.45 256.15 V266 M256.95 256.15 h5 M256.95 266 h5"/>
<path d="M270.1 253.59 V269.35 M267.6 253.59 h5 M267.6 269.35 h5"/>
<path d="M280.75 238.62 V258.32 M278.25 238.62 h5 M278.25 258.32 h5"/>
<path d="M291.4 257.14 V265.02 M288.9 257.14 h5 M288.9 265.02 h5"/>
<path d="M302.05 240.79 V262.06 M299.55 240.79 h5 M299.55 262.06 h5"/>
<path d="M312.7 251.03 V268.37 M310.2 251.03 h5 M310.2 268.37 h5"/>
<path d="M323.35 239.41 V264.62 M320.85 239.41 h5 M320.85 264.62 h5"/>
<path d="M334 259.7 V267.58 M331.5 259.7 h5 M331.5 267.58 h5"/>
<path d="M280.75 243.35 V257.53 M278.25 243.35 h5 M278.25 257.53 h5"/>
<path d="M291.4 225.42 V251.42 M288.9 225.42 h5 M288.9 251.42 h5"/>
<path d="M302.05 216.75 V234.09 M299.55 216.75 h5 M299.55 234.09 h5"/>
<path d="M312.7 216.16 V224.04 M310.2 216.16 h5 M310.2 224.04 h5"/>
<path d="M323.35 211.24 V224.24 M320.85 211.24 h5 M320.85 224.24 h5"/>
<path d="M334 196.85 V212.61 M331.5 196.85 h5 M331.5 212.61 h5"/>
</g>
<path d="M228.6 188 h6.4 M228.6 199.5 h6.4" stroke="#237028" stroke-width="1.1"/>
<circle cx="231.8" cy="188" r="1.9" fill="#fff" stroke="#237028" stroke-width="1.1"/>
<circle cx="231.8" cy="199.5" r="2.4" fill="#237028"/>
<text x="239.1" y="191" font-size="8.4" text-anchor="start" stroke="#222" stroke-width="0.22" fill="#222" textLength="28.5" lengthAdjust="spacingAndGlyphs">FL ProB</text>
<text x="239.1" y="202.5" font-size="8.4" text-anchor="start" stroke="#222" stroke-width="0.22" fill="#222" textLength="38.5" lengthAdjust="spacingAndGlyphs">FBM Pro B</text>
<circle cx="312.7" cy="206.7" r="1.2" fill="#222"/>
<circle cx="312.7" cy="211.3" r="1.2" fill="#222"/>
<circle cx="323.35" cy="205.8" r="1.2" fill="#222"/>
<circle cx="334" cy="178.1" r="1.2" fill="#222"/>
<circle cx="334" cy="182.5" r="1.2" fill="#222"/>
<circle cx="334" cy="187" r="1.2" fill="#222"/>
<circle cx="334" cy="191.4" r="1.2" fill="#222"/>
<text x="273" y="311.5" font-size="10.2" text-anchor="middle" font-weight="bold" stroke="#1a1a1a" stroke-width="0.12" fill="#1a1a1a" textLength="33" lengthAdjust="spacingAndGlyphs">Age (pcw)</text>
<g stroke="#111" stroke-width="1.4" fill="none">
<path d="M395.2 191.5 V275.3"/>
<path d="M394.6 274.7 H511.7"/>
<path d="M392.2 272.7 H395.2" stroke-width="1"/>
<path d="M392.2 253 H395.2" stroke-width="1"/>
<path d="M392.2 233.3 H395.2" stroke-width="1"/>
<path d="M392.2 213.6 H395.2" stroke-width="1"/>
<path d="M392.2 193.9 H395.2" stroke-width="1"/>
<path d="M400.4 274.7 V278.2" stroke-width="1"/>
<path d="M411.05 274.7 V278.2" stroke-width="1"/>
<path d="M421.7 274.7 V278.2" stroke-width="1"/>
<path d="M432.35 274.7 V278.2" stroke-width="1"/>
<path d="M443 274.7 V278.2" stroke-width="1"/>
<path d="M453.65 274.7 V278.2" stroke-width="1"/>
<path d="M464.3 274.7 V278.2" stroke-width="1"/>
<path d="M474.95 274.7 V278.2" stroke-width="1"/>
<path d="M485.6 274.7 V278.2" stroke-width="1"/>
<path d="M496.25 274.7 V278.2" stroke-width="1"/>
<path d="M506.9 274.7 V278.2" stroke-width="1"/>
</g>
<text x="388.7" y="275.8" font-size="8.6" text-anchor="end" stroke="#333" stroke-width="0.22" fill="#333" textLength="4.6" lengthAdjust="spacingAndGlyphs">0</text>
<text x="388.7" y="256.1" font-size="8.6" text-anchor="end" stroke="#333" stroke-width="0.22" fill="#333" textLength="9.2" lengthAdjust="spacingAndGlyphs">20</text>
<text x="388.7" y="236.4" font-size="8.6" text-anchor="end" stroke="#333" stroke-width="0.22" fill="#333" textLength="9.2" lengthAdjust="spacingAndGlyphs">40</text>
<text x="388.7" y="216.7" font-size="8.6" text-anchor="end" stroke="#333" stroke-width="0.22" fill="#333" textLength="9.2" lengthAdjust="spacingAndGlyphs">60</text>
<text x="388.7" y="197" font-size="8.6" text-anchor="end" stroke="#333" stroke-width="0.22" fill="#333" textLength="9.2" lengthAdjust="spacingAndGlyphs">80</text>
<text x="404" y="284.3" font-size="8.6" text-anchor="end" stroke="#2a2a2a" stroke-width="0.22" fill="#2a2a2a" transform="rotate(-45 404 284.3)">6</text>
<text x="414.65" y="284.3" font-size="8.6" text-anchor="end" stroke="#2a2a2a" stroke-width="0.22" fill="#2a2a2a" transform="rotate(-45 414.65 284.3)">7</text>
<text x="425.3" y="284.3" font-size="8.6" text-anchor="end" stroke="#2a2a2a" stroke-width="0.22" fill="#2a2a2a" transform="rotate(-45 425.3 284.3)">8</text>
<text x="435.95" y="284.3" font-size="8.6" text-anchor="end" stroke="#2a2a2a" stroke-width="0.22" fill="#2a2a2a" transform="rotate(-45 435.95 284.3)">9</text>
<text x="446.6" y="284.3" font-size="8.6" text-anchor="end" stroke="#2a2a2a" stroke-width="0.22" fill="#2a2a2a" transform="rotate(-45 446.6 284.3)">10</text>
<text x="457.25" y="284.3" font-size="8.6" text-anchor="end" stroke="#2a2a2a" stroke-width="0.22" fill="#2a2a2a" transform="rotate(-45 457.25 284.3)">11</text>
<text x="467.9" y="284.3" font-size="8.6" text-anchor="end" stroke="#2a2a2a" stroke-width="0.22" fill="#2a2a2a" transform="rotate(-45 467.9 284.3)">12-13</text>
<text x="478.55" y="284.3" font-size="8.6" text-anchor="end" stroke="#2a2a2a" stroke-width="0.22" fill="#2a2a2a" transform="rotate(-45 478.55 284.3)">14-15</text>
<text x="489.2" y="284.3" font-size="8.6" text-anchor="end" stroke="#2a2a2a" stroke-width="0.22" fill="#2a2a2a" transform="rotate(-45 489.2 284.3)">16-17</text>
<text x="499.85" y="284.3" font-size="8.6" text-anchor="end" stroke="#2a2a2a" stroke-width="0.22" fill="#2a2a2a" transform="rotate(-45 499.85 284.3)">18-19</text>
<text x="510.5" y="284.3" font-size="8.6" text-anchor="end" stroke="#2a2a2a" stroke-width="0.22" fill="#2a2a2a" transform="rotate(-45 510.5 284.3)">20-21</text>
<text x="374.5" y="233.5" font-size="10" text-anchor="middle" font-weight="bold" stroke="#1a1a1a" stroke-width="0.12" fill="#1a1a1a" textLength="37.5" lengthAdjust="spacingAndGlyphs" transform="rotate(-90 374.5 233.5)">% of CD34-</text>
<polyline points="400.4,272.7 411.05,272.4 421.7,272.21 432.35,272.21 443,271.71 453.65,269.75 464.3,267.77 474.95,264.52 485.6,270.14 496.25,259.89 506.9,265.31" fill="none" stroke="#3f4862" stroke-width="1.1" stroke-dasharray="1.1 1.4"/>
<polyline points="421.7,271.71 432.35,271.42 443,271.71 453.65,265.81 464.3,263.83 474.95,253.98 485.6,220.99 496.25,225.42 506.9,220.5" fill="none" stroke="#3f4862" stroke-width="1.2"/>
<circle cx="400.4" cy="272.7" r="2.35" fill="#fff" stroke="#3f4862" stroke-width="1.1"/>
<circle cx="411.05" cy="272.4" r="2.35" fill="#fff" stroke="#3f4862" stroke-width="1.1"/>
<circle cx="421.7" cy="272.21" r="2.35" fill="#fff" stroke="#3f4862" stroke-width="1.1"/>
<circle cx="432.35" cy="272.21" r="2.35" fill="#fff" stroke="#3f4862" stroke-width="1.1"/>
<circle cx="443" cy="271.71" r="2.35" fill="#fff" stroke="#3f4862" stroke-width="1.1"/>
<circle cx="453.65" cy="269.75" r="2.35" fill="#fff" stroke="#3f4862" stroke-width="1.1"/>
<circle cx="464.3" cy="267.77" r="2.35" fill="#fff" stroke="#3f4862" stroke-width="1.1"/>
<circle cx="474.95" cy="264.52" r="2.35" fill="#fff" stroke="#3f4862" stroke-width="1.1"/>
<circle cx="485.6" cy="270.14" r="2.35" fill="#fff" stroke="#3f4862" stroke-width="1.1"/>
<circle cx="496.25" cy="259.89" r="2.35" fill="#fff" stroke="#3f4862" stroke-width="1.1"/>
<circle cx="506.9" cy="265.31" r="2.35" fill="#fff" stroke="#3f4862" stroke-width="1.1"/>
<circle cx="421.7" cy="271.71" r="2.4" fill="#3f4862"/>
<circle cx="432.35" cy="271.42" r="2.4" fill="#3f4862"/>
<circle cx="443" cy="271.71" r="2.4" fill="#3f4862"/>
<circle cx="453.65" cy="265.81" r="2.4" fill="#3f4862"/>
<circle cx="464.3" cy="263.83" r="2.4" fill="#3f4862"/>
<circle cx="474.95" cy="253.98" r="2.4" fill="#3f4862"/>
<circle cx="485.6" cy="220.99" r="2.4" fill="#3f4862"/>
<circle cx="496.25" cy="225.42" r="2.4" fill="#3f4862"/>
<circle cx="506.9" cy="220.5" r="2.4" fill="#3f4862"/>
<g stroke="#3f4862" stroke-width="1.1" fill="none">
<path d="M421.7 271.91 V272.5 M419.2 271.91 h5 M419.2 272.5 h5"/>
<path d="M432.35 271.91 V272.5 M429.85 271.91 h5 M429.85 272.5 h5"/>
<path d="M443 271.22 V272.21 M440.5 271.22 h5 M440.5 272.21 h5"/>
<path d="M453.65 266.79 V272.7 M451.15 266.79 h5 M451.15 272.7 h5"/>
<path d="M464.3 263.83 V271.71 M461.8 263.83 h5 M461.8 271.71 h5"/>
<path d="M474.95 261.57 V267.48 M472.45 261.57 h5 M472.45 267.48 h5"/>
<path d="M485.6 269.35 V270.93 M483.1 269.35 h5 M483.1 270.93 h5"/>
<path d="M496.25 257.93 V261.87 M493.75 257.93 h5 M493.75 261.87 h5"/>
<path d="M506.9 264.52 V266.1 M504.4 264.52 h5 M504.4 266.1 h5"/>
<path d="M421.7 271.22 V272.21 M419.2 271.22 h5 M419.2 272.21 h5"/>
<path d="M432.35 270.93 V271.91 M429.85 270.93 h5 M429.85 271.91 h5"/>
<path d="M443 271.22 V272.21 M440.5 271.22 h5 M440.5 272.21 h5"/>
<path d="M453.65 259.4 V272.21 M451.15 259.4 h5 M451.15 272.21 h5"/>
<path d="M464.3 254.97 V272.7 M461.8 254.97 h5 M461.8 272.7 h5"/>
<path d="M474.95 248.57 V259.4 M472.45 248.57 h5 M472.45 259.4 h5"/>
<path d="M485.6 213.7 V228.28 M483.1 213.7 h5 M483.1 228.28 h5"/>
<path d="M496.25 212.12 V238.72 M493.75 212.12 h5 M493.75 238.72 h5"/>
<path d="M506.9 207.89 V233.1 M504.4 207.89 h5 M504.4 233.1 h5"/>
</g>
<path d="M401.5 188 h6.4 M401.5 199.5 h6.4" stroke="#3f4862" stroke-width="1.1"/>
<circle cx="404.7" cy="188" r="1.9" fill="#fff" stroke="#3f4862" stroke-width="1.1"/>
<circle cx="404.7" cy="199.5" r="2.4" fill="#3f4862"/>
<text x="412" y="191" font-size="8.4" text-anchor="start" stroke="#222" stroke-width="0.22" fill="#222" textLength="34" lengthAdjust="spacingAndGlyphs">FL B cells</text>
<text x="412" y="202.5" font-size="8.4" text-anchor="start" stroke="#222" stroke-width="0.22" fill="#222" textLength="42" lengthAdjust="spacingAndGlyphs">FBM B cells</text>
<circle cx="485.6" cy="195.8" r="1.2" fill="#222"/>
<circle cx="485.6" cy="199.8" r="1.2" fill="#222"/>
<circle cx="485.6" cy="204.2" r="1.2" fill="#222"/>
<circle cx="485.6" cy="208.5" r="1.2" fill="#222"/>
<circle cx="496.25" cy="194.4" r="1.2" fill="#222"/>
<circle cx="496.25" cy="198.6" r="1.2" fill="#222"/>
<circle cx="496.25" cy="202.8" r="1.2" fill="#222"/>
<circle cx="496.25" cy="207" r="1.2" fill="#222"/>
<circle cx="506.9" cy="190.6" r="1.2" fill="#222"/>
<circle cx="506.9" cy="194.8" r="1.2" fill="#222"/>
<circle cx="506.9" cy="199" r="1.2" fill="#222"/>
<circle cx="506.9" cy="203.2" r="1.2" fill="#222"/>
<text x="446" y="311.5" font-size="10.2" text-anchor="middle" font-weight="bold" stroke="#1a1a1a" stroke-width="0.12" fill="#1a1a1a" textLength="33" lengthAdjust="spacingAndGlyphs">Age (pcw)</text>
<text x="6.3" y="339.3" font-size="11.5" text-anchor="start" font-weight="bold" stroke="#111" stroke-width="0.12" fill="#111">G</text>
<text x="89.3" y="358.8" font-size="8.6" text-anchor="middle" stroke="#222" stroke-width="0.22" fill="#222" textLength="80" lengthAdjust="spacingAndGlyphs">CD2-CD3-CD14-CD16-</text>
<text x="89.3" y="367.8" font-size="8.6" text-anchor="middle" stroke="#222" stroke-width="0.22" fill="#222" textLength="93" lengthAdjust="spacingAndGlyphs">CD56-CD235a-viable cells:</text>
<g fill="none" stroke="#1a1a1a">
<path d="M49.4 373.9 H134.8 V462" stroke-width="1"/>
<path d="M49.4 373.6 V462.2 H134.8" stroke-width="1.5"/>
<path d="M46 377.7 H49.4" stroke-width="1"/>
<path d="M46 394.6 H49.4" stroke-width="1"/>
<path d="M46 411.2 H49.4" stroke-width="1"/>
<path d="M46 427.8 H49.4" stroke-width="1"/>
<path d="M46 444.7 H49.4" stroke-width="1"/>
<path d="M46 461.5 H49.4" stroke-width="1"/>
<path d="M47.6 375 V461" stroke-width="1.1" stroke-dasharray="0.7 1.9"/>
<path d="M63.4 462 V465.5" stroke-width="1"/>
<path d="M87 462 V465.5" stroke-width="1"/>
<path d="M107.3 462 V465.5" stroke-width="1"/>
<path d="M126.7 462 V465.5" stroke-width="1"/>
<path d="M53 462 V464" stroke-width="0.8"/>
<path d="M56 462 V464" stroke-width="0.8"/>
<path d="M59 462 V464" stroke-width="0.8"/>
<path d="M61 462 V464" stroke-width="0.8"/>
<path d="M65.5 462 V464" stroke-width="0.8"/>
<path d="M68 462 V464" stroke-width="0.8"/>
<path d="M71 462 V464" stroke-width="0.8"/>
<path d="M75 462 V464" stroke-width="0.8"/>
<path d="M79 462 V464" stroke-width="0.8"/>
<path d="M83 462 V464" stroke-width="0.8"/>
<path d="M90 462 V464" stroke-width="0.8"/>
<path d="M94 462 V464" stroke-width="0.8"/>
<path d="M97 462 V464" stroke-width="0.8"/>
<path d="M100 462 V464" stroke-width="0.8"/>
<path d="M103 462 V464" stroke-width="0.8"/>
<path d="M110 462 V464" stroke-width="0.8"/>
<path d="M114 462 V464" stroke-width="0.8"/>
<path d="M117 462 V464" stroke-width="0.8"/>
<path d="M120 462 V464" stroke-width="0.8"/>
<path d="M123 462 V464" stroke-width="0.8"/>
<path d="M129 462 V464" stroke-width="0.8"/>
<path d="M132 462 V464" stroke-width="0.8"/>
</g>
<text x="43.4" y="380.1" font-size="7" text-anchor="end" stroke="#333" stroke-width="0.22" fill="#333" textLength="14.6" lengthAdjust="spacingAndGlyphs">250k</text>
<text x="43.4" y="397" font-size="7" text-anchor="end" stroke="#333" stroke-width="0.22" fill="#333" textLength="14.6" lengthAdjust="spacingAndGlyphs">200k</text>
<text x="43.4" y="413.6" font-size="7" text-anchor="end" stroke="#333" stroke-width="0.22" fill="#333" textLength="14.6" lengthAdjust="spacingAndGlyphs">150k</text>
<text x="43.4" y="430.2" font-size="7" text-anchor="end" stroke="#333" stroke-width="0.22" fill="#333" textLength="14.6" lengthAdjust="spacingAndGlyphs">100k</text>
<text x="43.4" y="447.1" font-size="7" text-anchor="end" stroke="#333" stroke-width="0.22" fill="#333" textLength="10.4" lengthAdjust="spacingAndGlyphs">50k</text>
<text x="43.4" y="463.9" font-size="7" text-anchor="end" stroke="#333" stroke-width="0.22" fill="#333" textLength="3.7" lengthAdjust="spacingAndGlyphs">0</text>
<text x="63.4" y="473.8" font-size="7" text-anchor="middle" stroke="#333" stroke-width="0.22" fill="#333">0</text>
<text x="85.5" y="473.8" font-size="7" text-anchor="middle" stroke="#333" stroke-width="0.22" fill="#333">10</text>
<text x="90.3" y="470.3" font-size="4.8" text-anchor="middle" stroke="#333" stroke-width="0.22" fill="#333">3</text>
<text x="105.8" y="473.8" font-size="7" text-anchor="middle" stroke="#333" stroke-width="0.22" fill="#333">10</text>
<text x="110.6" y="470.3" font-size="4.8" text-anchor="middle" stroke="#333" stroke-width="0.22" fill="#333">4</text>
<text x="125.2" y="473.8" font-size="7" text-anchor="middle" stroke="#333" stroke-width="0.22" fill="#333">10</text>
<text x="130" y="470.3" font-size="4.8" text-anchor="middle" stroke="#333" stroke-width="0.22" fill="#333">5</text>
<text x="24.3" y="418" font-size="9.8" text-anchor="middle" font-weight="bold" stroke="#1a1a1a" stroke-width="0.12" fill="#1a1a1a" textLength="11.5" lengthAdjust="spacingAndGlyphs" transform="rotate(-90 24.3 418)">SSC</text>
<text x="59.6" y="486.4" font-size="9.8" text-anchor="middle" font-weight="bold" stroke="#1a1a1a" stroke-width="0.12" fill="#1a1a1a" textLength="17.2" lengthAdjust="spacingAndGlyphs">CD34</text>
<g>
<circle cx="92.42" cy="435.67" r="0.4" fill="#999"/>
<circle cx="92.83" cy="423.27" r="0.4" fill="#999"/>
<circle cx="82.98" cy="424.8" r="0.4" fill="#999"/>
<circle cx="111.57" cy="434.36" r="0.4" fill="#999"/>
<circle cx="110.52" cy="431.73" r="0.4" fill="#999"/>
<circle cx="101.53" cy="430.78" r="0.4" fill="#999"/>
<circle cx="72.68" cy="440.83" r="0.4" fill="#999"/>
<circle cx="103.09" cy="435.48" r="0.4" fill="#999"/>
<circle cx="72.32" cy="401.84" r="0.4" fill="#999"/>
<circle cx="83.55" cy="420.98" r="0.4" fill="#999"/>
<circle cx="100.28" cy="427.31" r="0.4" fill="#999"/>
<circle cx="103.29" cy="418.37" r="0.4" fill="#999"/>
<circle cx="100.32" cy="433.91" r="0.4" fill="#999"/>
<circle cx="86.74" cy="453.76" r="0.4" fill="#999"/>
<circle cx="103.79" cy="445.96" r="0.4" fill="#999"/>
<circle cx="87.32" cy="416.91" r="0.4" fill="#999"/>
<circle cx="91.18" cy="426.4" r="0.4" fill="#999"/>
<circle cx="104.85" cy="431.73" r="0.4" fill="#999"/>
<circle cx="89.74" cy="413.65" r="0.4" fill="#999"/>
<circle cx="88.71" cy="446.31" r="0.4" fill="#999"/>
<circle cx="84.69" cy="431.67" r="0.4" fill="#999"/>
<circle cx="101.97" cy="405.65" r="0.4" fill="#999"/>
<circle cx="96.68" cy="447.59" r="0.4" fill="#999"/>
<circle cx="67.8" cy="423.18" r="0.4" fill="#999"/>
<circle cx="94.51" cy="415.74" r="0.4" fill="#999"/>
<circle cx="102.96" cy="427.07" r="0.4" fill="#999"/>
<circle cx="75.49" cy="440.42" r="0.4" fill="#999"/>
<circle cx="105.37" cy="442.19" r="0.4" fill="#999"/>
<circle cx="116.17" cy="433.43" r="0.4" fill="#999"/>
<circle cx="97.67" cy="408.51" r="0.4" fill="#999"/>
<circle cx="104.62" cy="418.82" r="0.4" fill="#999"/>
<circle cx="89.66" cy="409.03" r="0.4" fill="#999"/>
<circle cx="82.45" cy="420.03" r="0.4" fill="#999"/>
<circle cx="114.04" cy="397.52" r="0.4" fill="#999"/>
<circle cx="75.59" cy="431.59" r="0.4" fill="#999"/>
<circle cx="116.21" cy="436.68" r="0.4" fill="#999"/>
<circle cx="69.4" cy="390.23" r="0.4" fill="#999"/>
<circle cx="101" cy="416.96" r="0.4" fill="#999"/>
<circle cx="80.32" cy="442.66" r="0.4" fill="#999"/>
<circle cx="111.43" cy="430.36" r="0.4" fill="#999"/>
<circle cx="99.44" cy="434.52" r="0.4" fill="#999"/>
<circle cx="118.32" cy="437.29" r="0.4" fill="#999"/>
<circle cx="103.26" cy="436.22" r="0.4" fill="#999"/>
<circle cx="74.04" cy="447.23" r="0.4" fill="#999"/>
<circle cx="109.37" cy="435.94" r="0.4" fill="#999"/>
<circle cx="68.37" cy="418.49" r="0.4" fill="#999"/>
<circle cx="107.79" cy="400.83" r="0.4" fill="#999"/>
<circle cx="93.42" cy="443.29" r="0.4" fill="#999"/>
<circle cx="77.64" cy="452.15" r="0.4" fill="#999"/>
<circle cx="103.73" cy="425.75" r="0.4" fill="#999"/>
<circle cx="100.55" cy="437.75" r="0.4" fill="#999"/>
<circle cx="97.69" cy="445.18" r="0.4" fill="#999"/>
<circle cx="86.74" cy="421.78" r="0.4" fill="#999"/>
<circle cx="110.58" cy="428.4" r="0.4" fill="#999"/>
<circle cx="83.67" cy="442.2" r="0.4" fill="#999"/>
<circle cx="116.52" cy="421.33" r="0.4" fill="#999"/>
<circle cx="76.68" cy="425.98" r="0.4" fill="#999"/>
<circle cx="93.91" cy="423.53" r="0.4" fill="#999"/>
<circle cx="115.67" cy="412.6" r="0.4" fill="#999"/>
<circle cx="113.65" cy="408.98" r="0.4" fill="#999"/>
<circle cx="84.98" cy="437.47" r="0.4" fill="#999"/>
<circle cx="111.8" cy="440.89" r="0.4" fill="#999"/>
<circle cx="100.83" cy="430.14" r="0.4" fill="#999"/>
<circle cx="98.13" cy="436.63" r="0.4" fill="#999"/>
<circle cx="93.53" cy="432.16" r="0.4" fill="#999"/>
<circle cx="104.02" cy="428.01" r="0.4" fill="#999"/>
<circle cx="106.7" cy="436.49" r="0.4" fill="#999"/>
<circle cx="124.15" cy="432.87" r="0.4" fill="#999"/>
<circle cx="90.01" cy="422.41" r="0.4" fill="#999"/>
<circle cx="95.82" cy="441.86" r="0.4" fill="#999"/>
<circle cx="91.29" cy="433.79" r="0.4" fill="#999"/>
<circle cx="121.72" cy="389.53" r="0.4" fill="#999"/>
<circle cx="80.27" cy="431.66" r="0.4" fill="#999"/>
<circle cx="101.58" cy="431.58" r="0.4" fill="#999"/>
<circle cx="89.96" cy="437.83" r="0.4" fill="#999"/>
<circle cx="99.95" cy="420.17" r="0.4" fill="#999"/>
<circle cx="130.02" cy="433.33" r="0.4" fill="#999"/>
<circle cx="88.24" cy="426.51" r="0.4" fill="#999"/>
<circle cx="92.84" cy="427.06" r="0.4" fill="#999"/>
<circle cx="57.81" cy="420.7" r="0.4" fill="#999"/>
<path d="M73 452 C78 444, 92 428, 104 414.5 C108 411, 113.5 410.5, 116.5 413.5 C119.5 418, 120 434, 118 446 C116 453, 111 457.5, 105 458 L86 458 C79 458, 72 456, 73 452 Z" fill="#e9e9e9" filter="url(#bl2)"/>
<g filter="url(#bl)">
<path d="M80 452 C86 444, 96 432, 106 421 C111 417, 115 421, 116 432 C116.5 442, 114 452, 106 456 L88 457 C82 457, 79 455, 80 452 Z" fill="#bebebe"/>
<path d="M85 452 C92 445, 100 436, 108 428 C112 426, 114 432, 113 442 C112 450, 108 455, 100 456 L90 456 C86 456, 84 454, 85 452 Z" fill="#8e8e8e"/>
</g>
<path d="M73 452 C78 444, 92 428, 104 414.5 C108 411, 113.5 410.5, 116.5 413.5 C119.5 418, 120 434, 118 446 C116 453, 111 457.5, 105 458 L86 458 C79 458, 72 456, 73 452 Z" fill="none" stroke="#a0a0a0" stroke-width="0.45" transform="translate(0 0) scale(1)"/>
<path d="M73 452 C78 444, 92 428, 104 414.5 C108 411, 113.5 410.5, 116.5 413.5 C119.5 418, 120 434, 118 446 C116 453, 111 457.5, 105 458 L86 458 C79 458, 72 456, 73 452 Z" fill="none" stroke="#a0a0a0" stroke-width="0.45" transform="translate(14 62.58) scale(0.86)"/>
<path d="M73 452 C78 444, 92 428, 104 414.5 C108 411, 113.5 410.5, 116.5 413.5 C119.5 418, 120 434, 118 446 C116 453, 111 457.5, 105 458 L86 458 C79 458, 72 456, 73 452 Z" fill="none" stroke="#a0a0a0" stroke-width="0.45" transform="translate(28 125.16) scale(0.72)"/>
<path d="M86 452 C90 444, 98 436, 106 430 C112 428, 116 436, 114 446 C112 454, 106 457, 98 457 L90 457 C86 457, 85 455, 86 452 Z" fill="#5e5e5e" filter="url(#bl)"/>
<path d="M88.6 450 C91 447, 96 443, 100.5 441 C102.5 442, 103.5 446, 103 449.5 C102.5 453, 101 454.8, 98 454.8 L92 454.6 C89.5 454.3, 87.8 452, 88.6 450 Z" fill="#4a4a4a" stroke="#101010" stroke-width="2.4" stroke-linejoin="round" filter="url(#bl2)"/>
<path d="M100 451 C104 449, 108 446, 112 443" stroke="#666" stroke-width="5" fill="none" filter="url(#bl)"/>
<ellipse cx="95.5" cy="450.5" rx="2.6" ry="1.8" fill="#b0b0b0" filter="url(#bl2)"/>
<circle cx="96.9" cy="450.3" r="0.9" fill="#f0f0f0"/>
<path d="M100 442 C102 440, 105 437, 107.2 435" stroke="#f6f6f6" stroke-width="1.3" fill="none" filter="url(#bl2)"/>
<ellipse cx="64" cy="448.8" rx="5.6" ry="5.15" fill="none" stroke="#999" stroke-width="0.6"/>
<ellipse cx="64" cy="448.8" rx="3.8" ry="3.5" fill="none" stroke="#888" stroke-width="0.6"/>
<ellipse cx="64" cy="448.8" rx="2" ry="1.84" fill="none" stroke="#777" stroke-width="0.6"/>
</g>
<rect x="85.4" y="401.5" width="35.3" height="57.7" fill="none" stroke="#3a3a3a" stroke-width="0.9"/>
<text x="102.9" y="392.3" font-size="6.6" text-anchor="middle" stroke="#222" stroke-width="0.22" fill="#222" textLength="27" lengthAdjust="spacingAndGlyphs">lin–CD34+</text>
<text x="102.9" y="399.6" font-size="6.6" text-anchor="middle" stroke="#222" stroke-width="0.22" fill="#222" textLength="9.8" lengthAdjust="spacingAndGlyphs">94.2</text>
<path d="M122.5 449.2 H146.5" stroke="#111" stroke-width="1.1"/>
<path d="M145.8 446.3 L152 449.2 L145.8 452.1 Z" fill="#111"/>
<g fill="none" stroke="#1a1a1a">
<path d="M168.5 373.9 H256.7 V462.3" stroke-width="1"/>
<path d="M168.5 373.6 V462.5 H256.7" stroke-width="1.5"/>
<path d="M165.2 395.4 H168.5" stroke-width="1"/>
<path d="M165.2 417 H168.5" stroke-width="1"/>
<path d="M165.2 441.3 H168.5" stroke-width="1"/>
<path d="M165.2 450.7 H168.5" stroke-width="1"/>
<path d="M165.2 460.1 H168.5" stroke-width="1"/>
<path d="M166.8 377 H168.5" stroke-width="0.8"/>
<path d="M166.8 381 H168.5" stroke-width="0.8"/>
<path d="M166.8 384 H168.5" stroke-width="0.8"/>
<path d="M166.8 387 H168.5" stroke-width="0.8"/>
<path d="M166.8 389 H168.5" stroke-width="0.8"/>
<path d="M166.8 391 H168.5" stroke-width="0.8"/>
<path d="M166.8 400 H168.5" stroke-width="0.8"/>
<path d="M166.8 403 H168.5" stroke-width="0.8"/>
<path d="M166.8 406 H168.5" stroke-width="0.8"/>
<path d="M166.8 409 H168.5" stroke-width="0.8"/>
<path d="M166.8 411 H168.5" stroke-width="0.8"/>
<path d="M166.8 413 H168.5" stroke-width="0.8"/>
<path d="M166.8 422 H168.5" stroke-width="0.8"/>
<path d="M166.8 426 H168.5" stroke-width="0.8"/>
<path d="M166.8 430 H168.5" stroke-width="0.8"/>
<path d="M166.8 434 H168.5" stroke-width="0.8"/>
<path d="M166.8 437 H168.5" stroke-width="0.8"/>
<path d="M166.8 439 H168.5" stroke-width="0.8"/>
<path d="M166.8 444 H168.5" stroke-width="0.8"/>
<path d="M166.8 447 H168.5" stroke-width="0.8"/>
<path d="M166.8 455 H168.5" stroke-width="0.8"/>
<path d="M166.8 458 H168.5" stroke-width="0.8"/>
<path d="M183.9 462.3 V465.8" stroke-width="1"/>
<path d="M220.3 462.3 V465.8" stroke-width="1"/>
<path d="M245.4 462.3 V465.8" stroke-width="1"/>
<path d="M173 462.3 V464.3" stroke-width="0.8"/>
<path d="M176 462.3 V464.3" stroke-width="0.8"/>
<path d="M179 462.3 V464.3" stroke-width="0.8"/>
<path d="M181 462.3 V464.3" stroke-width="0.8"/>
<path d="M186 462.3 V464.3" stroke-width="0.8"/>
<path d="M189 462.3 V464.3" stroke-width="0.8"/>
<path d="M192 462.3 V464.3" stroke-width="0.8"/>
<path d="M196 462.3 V464.3" stroke-width="0.8"/>
<path d="M201 462.3 V464.3" stroke-width="0.8"/>
<path d="M205 462.3 V464.3" stroke-width="0.8"/>
<path d="M209 462.3 V464.3" stroke-width="0.8"/>
<path d="M212 462.3 V464.3" stroke-width="0.8"/>
<path d="M214 462.3 V464.3" stroke-width="0.8"/>
<path d="M216 462.3 V464.3" stroke-width="0.8"/>
<path d="M218 462.3 V464.3" stroke-width="0.8"/>
<path d="M228 462.3 V464.3" stroke-width="0.8"/>
<path d="M232 462.3 V464.3" stroke-width="0.8"/>
<path d="M236 462.3 V464.3" stroke-width="0.8"/>
<path d="M238 462.3 V464.3" stroke-width="0.8"/>
<path d="M240 462.3 V464.3" stroke-width="0.8"/>
<path d="M242 462.3 V464.3" stroke-width="0.8"/>
<path d="M244 462.3 V464.3" stroke-width="0.8"/>
<path d="M250 462.3 V464.3" stroke-width="0.8"/>
<path d="M253 462.3 V464.3" stroke-width="0.8"/>
</g>
<text x="160.3" y="397.8" font-size="7" text-anchor="end" stroke="#333" stroke-width="0.22" fill="#333">10</text>
<text x="160.5" y="394.5" font-size="4.8" text-anchor="start" stroke="#333" stroke-width="0.22" fill="#333">4</text>
<text x="160.3" y="419.4" font-size="7" text-anchor="end" stroke="#333" stroke-width="0.22" fill="#333">10</text>
<text x="160.5" y="416.1" font-size="4.8" text-anchor="start" stroke="#333" stroke-width="0.22" fill="#333">3</text>
<text x="160.3" y="443.7" font-size="7" text-anchor="end" stroke="#333" stroke-width="0.22" fill="#333">10</text>
<text x="160.5" y="440.4" font-size="4.8" text-anchor="start" stroke="#333" stroke-width="0.22" fill="#333">2</text>
<text x="163.7" y="453.1" font-size="7" text-anchor="end" stroke="#333" stroke-width="0.22" fill="#333">0</text>
<text x="159.8" y="462.5" font-size="7" text-anchor="end" stroke="#333" stroke-width="0.22" fill="#333">-10</text>
<text x="160.1" y="459.2" font-size="4.8" text-anchor="start" stroke="#333" stroke-width="0.22" fill="#333">2</text>
<text x="183.9" y="474.6" font-size="7" text-anchor="middle" stroke="#333" stroke-width="0.22" fill="#333">0</text>
<text x="218.8" y="474.6" font-size="7" text-anchor="middle" stroke="#333" stroke-width="0.22" fill="#333">10</text>
<text x="223.6" y="471.1" font-size="4.8" text-anchor="middle" stroke="#333" stroke-width="0.22" fill="#333">3</text>
<text x="243.9" y="474.6" font-size="7" text-anchor="middle" stroke="#333" stroke-width="0.22" fill="#333">10</text>
<text x="248.7" y="471.1" font-size="4.8" text-anchor="middle" stroke="#333" stroke-width="0.22" fill="#333">4</text>
<text x="148.8" y="417.5" font-size="9.8" text-anchor="middle" font-weight="bold" stroke="#1a1a1a" stroke-width="0.12" fill="#1a1a1a" textLength="17.5" lengthAdjust="spacingAndGlyphs" transform="rotate(-90 148.8 417.5)">CD10</text>
<text x="179.3" y="487" font-size="9.8" text-anchor="middle" font-weight="bold" stroke="#1a1a1a" stroke-width="0.12" fill="#1a1a1a" textLength="17.5" lengthAdjust="spacingAndGlyphs">CD19</text>
<g>
<circle cx="235.17" cy="396.63" r="0.4" fill="#999"/>
<circle cx="213.67" cy="439.07" r="0.4" fill="#999"/>
<circle cx="232.12" cy="449.82" r="0.4" fill="#999"/>
<circle cx="180.97" cy="412.93" r="0.4" fill="#999"/>
<circle cx="208.18" cy="432.47" r="0.4" fill="#999"/>
<circle cx="236.77" cy="391.05" r="0.4" fill="#999"/>
<circle cx="228.66" cy="390.16" r="0.4" fill="#999"/>
<circle cx="218.52" cy="443.89" r="0.4" fill="#999"/>
<circle cx="212.01" cy="423.82" r="0.4" fill="#999"/>
<circle cx="230.94" cy="422.83" r="0.4" fill="#999"/>
<circle cx="213.23" cy="450.67" r="0.4" fill="#999"/>
<circle cx="235.97" cy="414.12" r="0.4" fill="#999"/>
<circle cx="233.29" cy="414.69" r="0.4" fill="#999"/>
<circle cx="217.65" cy="434.1" r="0.4" fill="#999"/>
<circle cx="219.44" cy="432.77" r="0.4" fill="#999"/>
<circle cx="184.45" cy="389.81" r="0.4" fill="#999"/>
<circle cx="227.3" cy="400.74" r="0.4" fill="#999"/>
<circle cx="194.47" cy="390.6" r="0.4" fill="#999"/>
<circle cx="240.33" cy="434.93" r="0.4" fill="#999"/>
<circle cx="244.46" cy="401.25" r="0.4" fill="#999"/>
<circle cx="215.02" cy="397.19" r="0.4" fill="#999"/>
<circle cx="230.32" cy="451.79" r="0.4" fill="#999"/>
<circle cx="197.2" cy="451.21" r="0.4" fill="#999"/>
<circle cx="234.76" cy="416.44" r="0.4" fill="#999"/>
<circle cx="175.56" cy="448.13" r="0.4" fill="#999"/>
<circle cx="213.07" cy="407.94" r="0.4" fill="#999"/>
<circle cx="222.99" cy="428.2" r="0.4" fill="#999"/>
<circle cx="244.96" cy="399.6" r="0.4" fill="#999"/>
<circle cx="237.72" cy="449.75" r="0.4" fill="#999"/>
<circle cx="244.04" cy="416.39" r="0.4" fill="#999"/>
<circle cx="200.12" cy="440.37" r="0.4" fill="#999"/>
<circle cx="217.3" cy="422.48" r="0.4" fill="#999"/>
<circle cx="243.48" cy="414.73" r="0.4" fill="#999"/>
<circle cx="177.92" cy="436.38" r="0.4" fill="#999"/>
<circle cx="221.34" cy="407.78" r="0.4" fill="#999"/>
<circle cx="214.81" cy="436.65" r="0.4" fill="#999"/>
<circle cx="216.58" cy="446.53" r="0.4" fill="#999"/>
<circle cx="213.77" cy="440.81" r="0.4" fill="#999"/>
<circle cx="244.83" cy="452.2" r="0.4" fill="#999"/>
<circle cx="201.56" cy="437.6" r="0.4" fill="#999"/>
<circle cx="177.48" cy="398.33" r="0.4" fill="#999"/>
<circle cx="175.74" cy="441.38" r="0.4" fill="#999"/>
<circle cx="190.36" cy="419.74" r="0.4" fill="#999"/>
<circle cx="211.16" cy="419.43" r="0.4" fill="#999"/>
<circle cx="203.17" cy="424.67" r="0.4" fill="#999"/>
<circle cx="250.83" cy="420.89" r="0.4" fill="#999"/>
<circle cx="225.62" cy="440.01" r="0.4" fill="#999"/>
<circle cx="211.04" cy="394.81" r="0.4" fill="#999"/>
<circle cx="203.89" cy="441.47" r="0.4" fill="#999"/>
<circle cx="182.08" cy="408.04" r="0.4" fill="#999"/>
<circle cx="235.15" cy="435.85" r="0.4" fill="#999"/>
<circle cx="215.15" cy="436.1" r="0.4" fill="#999"/>
<circle cx="218.32" cy="396.42" r="0.4" fill="#999"/>
<circle cx="183.72" cy="407.22" r="0.4" fill="#999"/>
<circle cx="233.45" cy="408.69" r="0.4" fill="#999"/>
<circle cx="196.95" cy="404.58" r="0.4" fill="#999"/>
<circle cx="184.36" cy="417.65" r="0.4" fill="#999"/>
<circle cx="191.41" cy="427.28" r="0.4" fill="#999"/>
<circle cx="202.17" cy="381.16" r="0.4" fill="#999"/>
<circle cx="229.49" cy="414.49" r="0.4" fill="#999"/>
<circle cx="170.4" cy="402.5" r="0.4" fill="#999"/>
<circle cx="220.82" cy="410.83" r="0.4" fill="#999"/>
<circle cx="230.6" cy="434.95" r="0.4" fill="#999"/>
<circle cx="228.32" cy="426.53" r="0.4" fill="#999"/>
<circle cx="241.67" cy="433.2" r="0.4" fill="#999"/>
<circle cx="224.02" cy="378.32" r="0.4" fill="#999"/>
<circle cx="232.93" cy="446.19" r="0.4" fill="#999"/>
<circle cx="209.06" cy="410.61" r="0.4" fill="#999"/>
<circle cx="253.81" cy="384.84" r="0.4" fill="#999"/>
<circle cx="196.45" cy="433.79" r="0.4" fill="#999"/>
<circle cx="252.73" cy="417.6" r="0.4" fill="#999"/>
<circle cx="226.22" cy="438.05" r="0.4" fill="#999"/>
<circle cx="196.88" cy="418.22" r="0.4" fill="#999"/>
<circle cx="220.86" cy="436.51" r="0.4" fill="#999"/>
<circle cx="214.31" cy="416.09" r="0.4" fill="#999"/>
<circle cx="194.68" cy="412.82" r="0.4" fill="#999"/>
<circle cx="232.83" cy="422.03" r="0.4" fill="#999"/>
<circle cx="197.94" cy="403.17" r="0.4" fill="#999"/>
<circle cx="227.43" cy="429.61" r="0.4" fill="#999"/>
<circle cx="248.68" cy="428.56" r="0.4" fill="#999"/>
<circle cx="213.65" cy="430.45" r="0.4" fill="#999"/>
<circle cx="176.12" cy="440.67" r="0.4" fill="#999"/>
<circle cx="221.5" cy="405.96" r="0.4" fill="#999"/>
<circle cx="241.51" cy="456.19" r="0.4" fill="#999"/>
<circle cx="186.95" cy="406.67" r="0.4" fill="#999"/>
<circle cx="220.83" cy="423.67" r="0.4" fill="#999"/>
<circle cx="207.03" cy="400.52" r="0.4" fill="#999"/>
<circle cx="191.12" cy="393.1" r="0.4" fill="#999"/>
<circle cx="249.06" cy="439.78" r="0.4" fill="#999"/>
<circle cx="251.42" cy="436.2" r="0.4" fill="#999"/>
<circle cx="197.56" cy="425.21" r="0.4" fill="#999"/>
<circle cx="171.8" cy="405.04" r="0.4" fill="#999"/>
<path d="M181 446 C180 432, 185 418, 196 408 C205 400, 214 395, 226 394 C235 394, 241 398, 242 408 C243 420, 241 436, 236 448 C232 455, 222 457, 212 457 L194 456 C186 455, 181 452, 181 446 Z" fill="#ececec" filter="url(#bl2)"/>
<g filter="url(#bl)">
<path d="M190 444 C190 430, 196 416, 206 406 C214 399, 228 397, 236 402 C241 410, 240 428, 234 442 C228 452, 214 452, 204 451 C195 450, 190 448, 190 444 Z" fill="#c8c8c8"/>
<path d="M206 442 C210 436, 222 435, 232 440 C236 446, 228 453, 214 452 C207 451, 204 446, 206 442 Z" fill="#a0a0a0"/>
</g>
<path d="M181 446 C180 432, 185 418, 196 408 C205 400, 214 395, 226 394 C235 394, 241 398, 242 408 C243 420, 241 436, 236 448 C232 455, 222 457, 212 457 L194 456 C186 455, 181 452, 181 446 Z" fill="none" stroke="#9a9a9a" stroke-width="0.45" transform="translate(0 0) scale(1)"/>
<path d="M181 446 C180 432, 185 418, 196 408 C205 400, 214 395, 226 394 C235 394, 241 398, 242 408 C243 420, 241 436, 236 448 C232 455, 222 457, 212 457 L194 456 C186 455, 181 452, 181 446 Z" fill="none" stroke="#9a9a9a" stroke-width="0.45" transform="translate(16.4 34.56) scale(0.92)"/>
<path d="M181 446 C180 432, 185 418, 196 408 C205 400, 214 395, 226 394 C235 394, 241 398, 242 408 C243 420, 241 436, 236 448 C232 455, 222 457, 212 457 L194 456 C186 455, 181 452, 181 446 Z" fill="none" stroke="#9a9a9a" stroke-width="0.45" transform="translate(32.8 69.12) scale(0.84)"/>
<path d="M181 446 C180 432, 185 418, 196 408 C205 400, 214 395, 226 394 C235 394, 241 398, 242 408 C243 420, 241 436, 236 448 C232 455, 222 457, 212 457 L194 456 C186 455, 181 452, 181 446 Z" fill="none" stroke="#9a9a9a" stroke-width="0.45" transform="translate(49.2 103.68) scale(0.76)"/>
<path d="M181 446 C180 432, 185 418, 196 408 C205 400, 214 395, 226 394 C235 394, 241 398, 242 408 C243 420, 241 436, 236 448 C232 455, 222 457, 212 457 L194 456 C186 455, 181 452, 181 446 Z" fill="none" stroke="#9a9a9a" stroke-width="0.45" transform="translate(65.6 138.24) scale(0.68)"/>
<ellipse cx="222" cy="418" rx="15.5" ry="19" fill="none" stroke="#777" stroke-width="5.5" filter="url(#bl)"/>
<path d="M209 414.3 C209.5 408, 213 404.8, 216 404 C219 403, 225 403, 229 405.8 C231.5 408, 232 412, 231.6 414.3 C231.4 418, 230 421, 228.5 423.8 C227 427, 225 432.2, 221 432.2 L217 432.2 C215.5 432, 214.8 429, 214.8 427.4 C214 425, 209.5 424, 209.5 421.6 C209 419, 209 416, 209 414.3 Z" fill="#c4c4c4" stroke="#222" stroke-width="3.2" stroke-linejoin="round" filter="url(#bl3)"/>
<ellipse cx="221.6" cy="415.3" rx="2.6" ry="2.2" fill="#e4e4e4" stroke="#9a9a9a" stroke-width="0.5"/>
<path d="M191 445.3 C198 446.5, 208 444.8, 216 445.8" fill="none" stroke="#454545" stroke-width="3.1" filter="url(#bl2)"/>
<ellipse cx="185.6" cy="442.8" rx="6.2" ry="8.1" transform="rotate(28 185.6 442.8)" fill="#a5a5a5" stroke="#0a0a0a" stroke-width="2.6" filter="url(#bl2)"/>
<circle cx="184.8" cy="444.6" r="0.9" fill="#f2f2f2"/>
</g>
<g fill="none" stroke="#3a3a3a" stroke-width="0.9">
<rect x="207.4" y="376.6" width="45.2" height="46.3"/>
<rect x="207.6" y="432.7" width="45.8" height="26.1"/>
<rect x="173.7" y="432.6" width="20.2" height="25.6"/>
</g>
<text x="184.4" y="384.6" font-size="6.4" text-anchor="middle" stroke="#222" stroke-width="0.22" fill="#222" textLength="19" lengthAdjust="spacingAndGlyphs">19–10–</text>
<text x="184" y="391.9" font-size="6.4" text-anchor="middle" stroke="#222" stroke-width="0.22" fill="#222" textLength="11" lengthAdjust="spacingAndGlyphs">32.9</text>
<text x="248.5" y="384.1" font-size="6.4" text-anchor="end" stroke="#222" stroke-width="0.22" fill="#222" textLength="13" lengthAdjust="spacingAndGlyphs">ProB</text>
<text x="247.7" y="391" font-size="6.4" text-anchor="end" stroke="#222" stroke-width="0.22" fill="#222" textLength="11.2" lengthAdjust="spacingAndGlyphs">28.1</text>
<text x="252" y="450.6" font-size="6.4" text-anchor="end" stroke="#222" stroke-width="0.22" fill="#222" textLength="20" lengthAdjust="spacingAndGlyphs">PreProB</text>
<text x="246.8" y="456.8" font-size="6.4" text-anchor="end" stroke="#222" stroke-width="0.22" fill="#222" textLength="9.6" lengthAdjust="spacingAndGlyphs">10.5</text>
<text x="272.6" y="339.6" font-size="11.5" text-anchor="start" font-weight="bold" stroke="#111" stroke-width="0.12" fill="#111">H</text>
<g stroke="#1a1a1a" fill="none">
<path d="M310.2 344.4 V462.6" stroke-width="1.3"/>
<path d="M309.6 462 H476.4" stroke-width="1.3"/>
<path d="M307 462.1 H310.2" stroke-width="1"/>
<path d="M307 433 H310.2" stroke-width="1"/>
<path d="M307 403.9 H310.2" stroke-width="1"/>
<path d="M307 374.8 H310.2" stroke-width="1"/>
<path d="M307 345.7 H310.2" stroke-width="1"/>
<path d="M317.3 462 V465.5" stroke-width="1"/>
<path d="M336.41 462 V465.5" stroke-width="1"/>
<path d="M355.52 462 V465.5" stroke-width="1"/>
<path d="M374.63 462 V465.5" stroke-width="1"/>
<path d="M393.74 462 V465.5" stroke-width="1"/>
<path d="M412.85 462 V465.5" stroke-width="1"/>
<path d="M431.96 462 V465.5" stroke-width="1"/>
<path d="M451.07 462 V465.5" stroke-width="1"/>
<path d="M470.18 462 V465.5" stroke-width="1"/>
</g>
<text x="304.9" y="465.2" font-size="8.6" text-anchor="end" stroke="#333" stroke-width="0.22" fill="#333" textLength="4.8" lengthAdjust="spacingAndGlyphs">0</text>
<text x="304.9" y="436.1" font-size="8.6" text-anchor="end" stroke="#333" stroke-width="0.22" fill="#333" textLength="9.6" lengthAdjust="spacingAndGlyphs">10</text>
<text x="304.9" y="407" font-size="8.6" text-anchor="end" stroke="#333" stroke-width="0.22" fill="#333" textLength="9.6" lengthAdjust="spacingAndGlyphs">20</text>
<text x="304.9" y="377.9" font-size="8.6" text-anchor="end" stroke="#333" stroke-width="0.22" fill="#333" textLength="9.6" lengthAdjust="spacingAndGlyphs">30</text>
<text x="304.9" y="348.8" font-size="8.6" text-anchor="end" stroke="#333" stroke-width="0.22" fill="#333" textLength="9.6" lengthAdjust="spacingAndGlyphs">40</text>
<text x="320.8" y="473.3" font-size="8.2" text-anchor="end" stroke="#333" stroke-width="0.22" fill="#333" transform="rotate(-45 320.8 473.3)">8</text>
<text x="339.91" y="473.3" font-size="8.2" text-anchor="end" stroke="#333" stroke-width="0.22" fill="#333" transform="rotate(-45 339.91 473.3)">9</text>
<text x="359.02" y="473.3" font-size="8.2" text-anchor="end" stroke="#333" stroke-width="0.22" fill="#333" transform="rotate(-45 359.02 473.3)">10</text>
<text x="378.13" y="473.3" font-size="8.2" text-anchor="end" stroke="#333" stroke-width="0.22" fill="#333" transform="rotate(-45 378.13 473.3)">11</text>
<text x="397.24" y="473.3" font-size="8.2" text-anchor="end" stroke="#333" stroke-width="0.22" fill="#333" transform="rotate(-45 397.24 473.3)">12-13</text>
<text x="416.35" y="473.3" font-size="8.2" text-anchor="end" stroke="#333" stroke-width="0.22" fill="#333" transform="rotate(-45 416.35 473.3)">14-15</text>
<text x="435.46" y="473.3" font-size="8.2" text-anchor="end" stroke="#333" stroke-width="0.22" fill="#333" transform="rotate(-45 435.46 473.3)">16-17</text>
<text x="454.57" y="473.3" font-size="8.2" text-anchor="end" stroke="#333" stroke-width="0.22" fill="#333" transform="rotate(-45 454.57 473.3)">18-19</text>
<text x="473.68" y="473.3" font-size="8.2" text-anchor="end" stroke="#333" stroke-width="0.22" fill="#333" transform="rotate(-45 473.68 473.3)">20-21</text>
<text x="291" y="403" font-size="10" text-anchor="middle" font-weight="bold" stroke="#1a1a1a" stroke-width="0.12" fill="#1a1a1a" textLength="55" lengthAdjust="spacingAndGlyphs" transform="rotate(-90 291 403)">% of Lin-CD34+</text>
<text x="394" y="497.6" font-size="10.2" text-anchor="middle" font-weight="bold" stroke="#1a1a1a" stroke-width="0.12" fill="#1a1a1a" textLength="34.6" lengthAdjust="spacingAndGlyphs">Age (pcw)</text>
<polyline points="311.3,462.1 330.41,462.1 349.52,462.1 368.63,429.51 387.74,411.18 406.85,391.68 425.96,384.11 445.07,381.2 464.18,362" fill="none" stroke="#2a7432" stroke-width="1.1"/>
<g stroke="#2a7432" stroke-width="1.1" fill="none">
<path d="M368.63 417.29 V441.73 M366.13 417.29 h5 M366.13 441.73 h5"/>
<path d="M387.74 391.97 V430.38 M385.24 391.97 h5 M385.24 430.38 h5"/>
<path d="M406.85 378.87 V404.48 M404.35 378.87 h5 M404.35 404.48 h5"/>
<path d="M425.96 378.29 V389.93 M423.46 378.29 h5 M423.46 389.93 h5"/>
<path d="M445.07 371.6 V390.81 M442.57 371.6 h5 M442.57 390.81 h5"/>
<path d="M464.18 350.94 V373.05 M461.68 350.94 h5 M461.68 373.05 h5"/>
</g>
<polyline points="314.3,462.1 333.41,462.1 352.52,462.1 371.63,406.81 390.74,413.21 409.85,428.05 428.96,430.67 448.07,426.02 467.18,426.89" fill="none" stroke="#8dc03f" stroke-width="1.1"/>
<g stroke="#8dc03f" stroke-width="1.1" fill="none">
<path d="M371.63 389.06 V424.56 M369.13 389.06 h5 M369.13 424.56 h5"/>
<path d="M390.74 396.33 V430.09 M388.24 396.33 h5 M388.24 430.09 h5"/>
<path d="M409.85 422.81 V433.29 M407.35 422.81 h5 M407.35 433.29 h5"/>
<path d="M428.96 426.31 V435.04 M426.46 426.31 h5 M426.46 435.04 h5"/>
<path d="M448.07 417.87 V434.16 M445.57 417.87 h5 M445.57 434.16 h5"/>
<path d="M467.18 422.81 V430.96 M464.68 422.81 h5 M464.68 430.96 h5"/>
</g>
<polyline points="317.3,462.1 336.41,462.1 355.52,462.1 374.63,451.62 393.74,455.12 412.85,458.32 431.96,456.28 451.07,455.41 470.18,455.99" fill="none" stroke="#82208a" stroke-width="1.1"/>
<g stroke="#82208a" stroke-width="1.1" fill="none">
<path d="M374.63 449.88 V453.37 M372.13 449.88 h5 M372.13 453.37 h5"/>
<path d="M393.74 451.62 V458.61 M391.24 451.62 h5 M391.24 458.61 h5"/>
<path d="M412.85 457.44 V459.19 M410.35 457.44 h5 M410.35 459.19 h5"/>
<path d="M431.96 454.83 V457.74 M429.46 454.83 h5 M429.46 457.74 h5"/>
<path d="M451.07 453.95 V456.86 M448.57 453.95 h5 M448.57 456.86 h5"/>
<path d="M470.18 454.83 V457.15 M467.68 454.83 h5 M467.68 457.15 h5"/>
</g>
<polyline points="320.3,462.1 339.41,462.1 358.52,462.1 377.63,455.7 396.74,449.59 415.85,450.17 434.96,456.28 454.07,455.99 473.18,458.03" fill="none" stroke="#3aa6ad" stroke-width="1.1"/>
<g stroke="#3aa6ad" stroke-width="1.1" fill="none">
<path d="M377.63 453.95 V457.44 M375.13 453.95 h5 M375.13 457.44 h5"/>
<path d="M396.74 447.26 V451.92 M394.24 447.26 h5 M394.24 451.92 h5"/>
<path d="M415.85 444.06 V456.28 M413.35 444.06 h5 M413.35 456.28 h5"/>
<path d="M434.96 455.41 V457.15 M432.46 455.41 h5 M432.46 457.15 h5"/>
<path d="M454.07 454.53 V457.44 M451.57 454.53 h5 M451.57 457.44 h5"/>
<path d="M473.18 457.15 V458.9 M470.68 457.15 h5 M470.68 458.9 h5"/>
</g>
<polyline points="323.3,462.1 342.41,462.1 361.52,462.1 380.63,451.92 399.74,448.13 418.85,437.95 437.96,446.1 457.07,454.53 476.18,446.39" fill="none" stroke="#dc6a1d" stroke-width="1.1"/>
<g stroke="#dc6a1d" stroke-width="1.1" fill="none">
<path d="M380.63 450.75 V453.08 M378.13 450.75 h5 M378.13 453.08 h5"/>
<path d="M399.74 443.77 V452.5 M397.24 443.77 h5 M397.24 452.5 h5"/>
<path d="M418.85 429.8 V446.1 M416.35 429.8 h5 M416.35 446.1 h5"/>
<path d="M437.96 444.35 V447.84 M435.46 444.35 h5 M435.46 447.84 h5"/>
<path d="M457.07 452.79 V456.28 M454.57 452.79 h5 M454.57 456.28 h5"/>
<path d="M476.18 441.73 V451.04 M473.68 441.73 h5 M473.68 451.04 h5"/>
</g>
<circle cx="311.3" cy="462.1" r="3.1" fill="#2a7432" stroke="#2a2a2a" stroke-width="0.6"/>
<circle cx="330.41" cy="462.1" r="3.1" fill="#2a7432" stroke="#2a2a2a" stroke-width="0.6"/>
<circle cx="349.52" cy="462.1" r="3.1" fill="#2a7432" stroke="#2a2a2a" stroke-width="0.6"/>
<circle cx="368.63" cy="429.51" r="3.1" fill="#2a7432" stroke="#2a2a2a" stroke-width="0.6"/>
<circle cx="387.74" cy="411.18" r="3.1" fill="#2a7432" stroke="#2a2a2a" stroke-width="0.6"/>
<circle cx="406.85" cy="391.68" r="3.1" fill="#2a7432" stroke="#2a2a2a" stroke-width="0.6"/>
<circle cx="425.96" cy="384.11" r="3.1" fill="#2a7432" stroke="#2a2a2a" stroke-width="0.6"/>
<circle cx="445.07" cy="381.2" r="3.1" fill="#2a7432" stroke="#2a2a2a" stroke-width="0.6"/>
<circle cx="464.18" cy="362" r="3.1" fill="#2a7432" stroke="#2a2a2a" stroke-width="0.6"/>
<circle cx="314.3" cy="462.1" r="3.1" fill="#8dc03f" stroke="#2a2a2a" stroke-width="0.6"/>
<circle cx="333.41" cy="462.1" r="3.1" fill="#8dc03f" stroke="#2a2a2a" stroke-width="0.6"/>
<circle cx="352.52" cy="462.1" r="3.1" fill="#8dc03f" stroke="#2a2a2a" stroke-width="0.6"/>
<circle cx="371.63" cy="406.81" r="3.1" fill="#8dc03f" stroke="#2a2a2a" stroke-width="0.6"/>
<circle cx="390.74" cy="413.21" r="3.1" fill="#8dc03f" stroke="#2a2a2a" stroke-width="0.6"/>
<circle cx="409.85" cy="428.05" r="3.1" fill="#8dc03f" stroke="#2a2a2a" stroke-width="0.6"/>
<circle cx="428.96" cy="430.67" r="3.1" fill="#8dc03f" stroke="#2a2a2a" stroke-width="0.6"/>
<circle cx="448.07" cy="426.02" r="3.1" fill="#8dc03f" stroke="#2a2a2a" stroke-width="0.6"/>
<circle cx="467.18" cy="426.89" r="3.1" fill="#8dc03f" stroke="#2a2a2a" stroke-width="0.6"/>
<circle cx="317.3" cy="462.1" r="3.1" fill="#82208a" stroke="#2a2a2a" stroke-width="0.6"/>
<circle cx="336.41" cy="462.1" r="3.1" fill="#82208a" stroke="#2a2a2a" stroke-width="0.6"/>
<circle cx="355.52" cy="462.1" r="3.1" fill="#82208a" stroke="#2a2a2a" stroke-width="0.6"/>
<circle cx="374.63" cy="451.62" r="3.1" fill="#82208a" stroke="#2a2a2a" stroke-width="0.6"/>
<circle cx="393.74" cy="455.12" r="3.1" fill="#82208a" stroke="#2a2a2a" stroke-width="0.6"/>
<circle cx="412.85" cy="458.32" r="3.1" fill="#82208a" stroke="#2a2a2a" stroke-width="0.6"/>
<circle cx="431.96" cy="456.28" r="3.1" fill="#82208a" stroke="#2a2a2a" stroke-width="0.6"/>
<circle cx="451.07" cy="455.41" r="3.1" fill="#82208a" stroke="#2a2a2a" stroke-width="0.6"/>
<circle cx="470.18" cy="455.99" r="3.1" fill="#82208a" stroke="#2a2a2a" stroke-width="0.6"/>
<circle cx="320.3" cy="462.1" r="3.1" fill="#3aa6ad" stroke="#2a2a2a" stroke-width="0.6"/>
<circle cx="339.41" cy="462.1" r="3.1" fill="#3aa6ad" stroke="#2a2a2a" stroke-width="0.6"/>
<circle cx="358.52" cy="462.1" r="3.1" fill="#3aa6ad" stroke="#2a2a2a" stroke-width="0.6"/>
<circle cx="377.63" cy="455.7" r="3.1" fill="#3aa6ad" stroke="#2a2a2a" stroke-width="0.6"/>
<circle cx="396.74" cy="449.59" r="3.1" fill="#3aa6ad" stroke="#2a2a2a" stroke-width="0.6"/>
<circle cx="415.85" cy="450.17" r="3.1" fill="#3aa6ad" stroke="#2a2a2a" stroke-width="0.6"/>
<circle cx="434.96" cy="456.28" r="3.1" fill="#3aa6ad" stroke="#2a2a2a" stroke-width="0.6"/>
<circle cx="454.07" cy="455.99" r="3.1" fill="#3aa6ad" stroke="#2a2a2a" stroke-width="0.6"/>
<circle cx="473.18" cy="458.03" r="3.1" fill="#3aa6ad" stroke="#2a2a2a" stroke-width="0.6"/>
<circle cx="323.3" cy="462.1" r="3.1" fill="#dc6a1d" stroke="#2a2a2a" stroke-width="0.6"/>
<circle cx="342.41" cy="462.1" r="3.1" fill="#dc6a1d" stroke="#2a2a2a" stroke-width="0.6"/>
<circle cx="361.52" cy="462.1" r="3.1" fill="#dc6a1d" stroke="#2a2a2a" stroke-width="0.6"/>
<circle cx="380.63" cy="451.92" r="3.1" fill="#dc6a1d" stroke="#2a2a2a" stroke-width="0.6"/>
<circle cx="399.74" cy="448.13" r="3.1" fill="#dc6a1d" stroke="#2a2a2a" stroke-width="0.6"/>
<circle cx="418.85" cy="437.95" r="3.1" fill="#dc6a1d" stroke="#2a2a2a" stroke-width="0.6"/>
<circle cx="437.96" cy="446.1" r="3.1" fill="#dc6a1d" stroke="#2a2a2a" stroke-width="0.6"/>
<circle cx="457.07" cy="454.53" r="3.1" fill="#dc6a1d" stroke="#2a2a2a" stroke-width="0.6"/>
<circle cx="476.18" cy="446.39" r="3.1" fill="#dc6a1d" stroke="#2a2a2a" stroke-width="0.6"/>
<path d="M317.5 350 h9.8" stroke="#dc6a1d" stroke-width="1.1"/>
<circle cx="322.4" cy="350" r="3.1" fill="#dc6a1d" stroke="#2a2a2a" stroke-width="0.6"/>
<text x="330.3" y="353" font-size="8.6" text-anchor="start" stroke="#222" stroke-width="0.22" fill="#222" textLength="34" lengthAdjust="spacingAndGlyphs">HSC/MPP</text>
<path d="M317.5 361.3 h9.8" stroke="#3aa6ad" stroke-width="1.1"/>
<circle cx="322.4" cy="361.3" r="3.1" fill="#3aa6ad" stroke="#2a2a2a" stroke-width="0.6"/>
<text x="330.3" y="364.3" font-size="8.6" text-anchor="start" stroke="#222" stroke-width="0.22" fill="#222" textLength="20" lengthAdjust="spacingAndGlyphs">LMPP</text>
<path d="M317.5 372.6 h9.8" stroke="#82208a" stroke-width="1.1"/>
<circle cx="322.4" cy="372.6" r="3.1" fill="#82208a" stroke="#2a2a2a" stroke-width="0.6"/>
<text x="330.3" y="375.6" font-size="8.6" text-anchor="start" stroke="#222" stroke-width="0.22" fill="#222" textLength="12.7" lengthAdjust="spacingAndGlyphs">ELP</text>
<path d="M317.5 383.8 h9.8" stroke="#8dc03f" stroke-width="1.1"/>
<circle cx="322.4" cy="383.8" r="3.1" fill="#8dc03f" stroke="#2a2a2a" stroke-width="0.6"/>
<text x="330.3" y="386.8" font-size="8.6" text-anchor="start" stroke="#222" stroke-width="0.22" fill="#222" textLength="27.4" lengthAdjust="spacingAndGlyphs">PreProB</text>
<path d="M317.5 395.1 h9.8" stroke="#2a7432" stroke-width="1.1"/>
<circle cx="322.4" cy="395.1" r="3.1" fill="#2a7432" stroke="#2a2a2a" stroke-width="0.6"/>
<text x="330.3" y="398.1" font-size="8.6" text-anchor="start" stroke="#222" stroke-width="0.22" fill="#222" textLength="17" lengthAdjust="spacingAndGlyphs">ProB</text>
<text x="6.5" y="526.8" font-size="11.5" text-anchor="start" font-weight="bold" stroke="#111" stroke-width="0.12" fill="#111">I</text>
<g stroke="#1a1a1a" fill="none">
<path d="M49.6 530.6 V624.2" stroke-width="1.3"/>
<path d="M49 623.6 H172.4" stroke-width="1.3"/>
<path d="M46.8 623.5 H49.6" stroke-width="1"/>
<path d="M46.8 600.9 H49.6" stroke-width="1"/>
<path d="M46.8 578.3 H49.6" stroke-width="1"/>
<path d="M46.8 555.7 H49.6" stroke-width="1"/>
<path d="M46.8 533.1 H49.6" stroke-width="1"/>
</g>
<text x="44.4" y="626.1" font-size="7.2" text-anchor="end" stroke="#333" stroke-width="0.22" fill="#333" textLength="4" lengthAdjust="spacingAndGlyphs">0</text>
<text x="44.4" y="603.5" font-size="7.2" text-anchor="end" stroke="#333" stroke-width="0.22" fill="#333" textLength="8" lengthAdjust="spacingAndGlyphs">10</text>
<text x="44.4" y="580.9" font-size="7.2" text-anchor="end" stroke="#333" stroke-width="0.22" fill="#333" textLength="8" lengthAdjust="spacingAndGlyphs">20</text>
<text x="44.4" y="558.3" font-size="7.2" text-anchor="end" stroke="#333" stroke-width="0.22" fill="#333" textLength="8" lengthAdjust="spacingAndGlyphs">30</text>
<text x="44.4" y="535.7" font-size="7.2" text-anchor="end" stroke="#333" stroke-width="0.22" fill="#333" textLength="8" lengthAdjust="spacingAndGlyphs">40</text>
<text x="31.4" y="577.3" font-size="10" text-anchor="middle" font-weight="bold" stroke="#1a1a1a" stroke-width="0.12" fill="#1a1a1a" textLength="48" lengthAdjust="spacingAndGlyphs" transform="rotate(-90 31.4 577.3)">% of Lin-CD34+</text>
<rect x="51.85" y="618.2" width="6.0" height="5.4" fill="#ad0a30" stroke="#a00026" stroke-width="0.7"/>
<path d="M54.85 617.28 V617.85 M52.85 617.28 h4" stroke="#222" stroke-width="0.9"/>
<rect x="59.95" y="620.8" width="6.0" height="2.8" fill="#2e4a7c" stroke="#1c3870" stroke-width="0.7"/>
<path d="M62.95 620 V620.45 M60.95 620 h4" stroke="#222" stroke-width="0.9"/>
<text x="62.9" y="632.8" font-size="8.8" text-anchor="end" stroke="#333" stroke-width="0.22" fill="#333" textLength="16.16" lengthAdjust="spacingAndGlyphs" transform="rotate(-45 62.9 632.8)">HSC</text>
<rect x="72.71" y="609.16" width="6.0" height="14.44" fill="#ad0a30" stroke="#a00026" stroke-width="0.7"/>
<path d="M75.71 607.79 V608.81 M73.71 607.79 h4" stroke="#222" stroke-width="0.9"/>
<rect x="80.81" y="616.17" width="6.0" height="7.43" fill="#2e4a7c" stroke="#1c3870" stroke-width="0.7"/>
<path d="M83.81 614.91 V615.82 M81.81 614.91 h4" stroke="#222" stroke-width="0.9"/>
<text x="83.76" y="632.8" font-size="8.8" text-anchor="end" stroke="#333" stroke-width="0.22" fill="#333" textLength="16.59" lengthAdjust="spacingAndGlyphs" transform="rotate(-45 83.76 632.8)">MPP</text>
<rect x="93.57" y="617.52" width="6.0" height="6.08" fill="#ad0a30" stroke="#a00026" stroke-width="0.7"/>
<path d="M96.57 616.49 V617.17 M94.57 616.49 h4" stroke="#222" stroke-width="0.9"/>
<rect x="101.67" y="618.43" width="6.0" height="5.17" fill="#2e4a7c" stroke="#1c3870" stroke-width="0.7"/>
<path d="M104.67 617.4 V618.08 M102.67 617.4 h4" stroke="#222" stroke-width="0.9"/>
<text x="104.62" y="632.8" font-size="8.8" text-anchor="end" stroke="#333" stroke-width="0.22" fill="#333" textLength="20.85" lengthAdjust="spacingAndGlyphs" transform="rotate(-45 104.62 632.8)">LMPP</text>
<rect x="114.43" y="620.35" width="6.0" height="3.25" fill="#ad0a30" stroke="#a00026" stroke-width="0.7"/>
<path d="M117.43 619.54 V620 M115.43 619.54 h4" stroke="#222" stroke-width="0.9"/>
<rect x="122.53" y="619.44" width="6.0" height="4.16" fill="#2e4a7c" stroke="#1c3870" stroke-width="0.7"/>
<path d="M125.53 618.64 V619.09 M123.53 618.64 h4" stroke="#222" stroke-width="0.9"/>
<text x="125.48" y="632.8" font-size="8.8" text-anchor="end" stroke="#333" stroke-width="0.22" fill="#333" textLength="14.47" lengthAdjust="spacingAndGlyphs" transform="rotate(-45 125.48 632.8)">ELP</text>
<rect x="135.29" y="618.2" width="6.0" height="5.4" fill="#ad0a30" stroke="#a00026" stroke-width="0.7"/>
<path d="M138.29 617.06 V617.85 M136.29 617.06 h4" stroke="#222" stroke-width="0.9"/>
<rect x="143.39" y="595.15" width="6.0" height="28.45" fill="#2e4a7c" stroke="#1c3870" stroke-width="0.7"/>
<path d="M146.39 592.09 V594.8 M144.39 592.09 h4" stroke="#222" stroke-width="0.9"/>
<text x="146.34" y="632.8" font-size="8.8" text-anchor="end" stroke="#333" stroke-width="0.22" fill="#333" textLength="28.94" lengthAdjust="spacingAndGlyphs" transform="rotate(-45 146.34 632.8)">PreProB</text>
<rect x="156.15" y="605.09" width="6.0" height="18.51" fill="#ad0a30" stroke="#a00026" stroke-width="0.7"/>
<path d="M159.15 600.45 V604.74 M157.15 600.45 h4" stroke="#222" stroke-width="0.9"/>
<rect x="164.25" y="560.12" width="6.0" height="63.48" fill="#2e4a7c" stroke="#1c3870" stroke-width="0.7"/>
<path d="M167.25 555.7 V559.77 M165.25 555.7 h4" stroke="#222" stroke-width="0.9"/>
<text x="167.2" y="632.8" font-size="8.8" text-anchor="end" stroke="#333" stroke-width="0.22" fill="#333" textLength="17.03" lengthAdjust="spacingAndGlyphs" transform="rotate(-45 167.2 632.8)">ProB</text>
<rect x="56.3" y="533" width="6.7" height="6.2" fill="#ad0a30" stroke="#a00026" stroke-width="0.6"/>
<rect x="56.3" y="543.4" width="6.7" height="6.2" fill="#2e4a7c" stroke="#1c3870" stroke-width="0.6"/>
<text x="66.3" y="538.9" font-size="7.2" text-anchor="start" stroke="#222" stroke-width="0.22" fill="#222" textLength="6.7" lengthAdjust="spacingAndGlyphs">FL</text>
<text x="66.3" y="549.3" font-size="7.2" text-anchor="start" stroke="#222" stroke-width="0.22" fill="#222" textLength="13.5" lengthAdjust="spacingAndGlyphs">FBM</text>
<path d="M75 604.5 H86.5" stroke="#111" stroke-width="1.1"/>
<circle cx="80.75" cy="600.3" r="0.85" fill="#222"/>
<path d="M135.8 589.5 H147" stroke="#111" stroke-width="1.1"/>
<circle cx="137.9" cy="585.1" r="0.85" fill="#222"/>
<circle cx="140.5" cy="585.1" r="0.85" fill="#222"/>
<circle cx="143.1" cy="585.1" r="0.85" fill="#222"/>
<circle cx="145.7" cy="585.1" r="0.85" fill="#222"/>
<path d="M156.7 553.5 H167.9" stroke="#111" stroke-width="1.1"/>
<circle cx="158.8" cy="548.9" r="0.85" fill="#222"/>
<circle cx="161.4" cy="548.9" r="0.85" fill="#222"/>
<circle cx="164" cy="548.9" r="0.85" fill="#222"/>
<circle cx="166.6" cy="548.9" r="0.85" fill="#222"/>
<text x="187.8" y="527.3" font-size="11.5" text-anchor="start" font-weight="bold" stroke="#111" stroke-width="0.12" fill="#111">J</text>
<g stroke="#1a1a1a" fill="none">
<path d="M220.4 537.2 V624" stroke-width="1.3"/>
<path d="M219.8 623.4 H342.8" stroke-width="1.3"/>
<path d="M217.4 623.4 H220.4" stroke-width="1"/>
<path d="M217.4 602.4 H220.4" stroke-width="1"/>
<path d="M217.4 581.4 H220.4" stroke-width="1"/>
<path d="M217.4 560.4 H220.4" stroke-width="1"/>
<path d="M217.4 539.4 H220.4" stroke-width="1"/>
<path d="M228.9 623.4 V626.4" stroke-width="1"/>
<path d="M249.7 623.4 V626.4" stroke-width="1"/>
<path d="M270.5 623.4 V626.4" stroke-width="1"/>
<path d="M291.3 623.4 V626.4" stroke-width="1"/>
<path d="M312.1 623.4 V626.4" stroke-width="1"/>
<path d="M332.9 623.4 V626.4" stroke-width="1"/>
</g>
<text x="214.8" y="626.3" font-size="8" text-anchor="end" stroke="#333" stroke-width="0.22" fill="#333" textLength="4.15" lengthAdjust="spacingAndGlyphs">0</text>
<text x="214.8" y="605.3" font-size="8" text-anchor="end" stroke="#333" stroke-width="0.22" fill="#333" textLength="8.3" lengthAdjust="spacingAndGlyphs">10</text>
<text x="214.8" y="584.3" font-size="8" text-anchor="end" stroke="#333" stroke-width="0.22" fill="#333" textLength="8.3" lengthAdjust="spacingAndGlyphs">20</text>
<text x="214.8" y="563.3" font-size="8" text-anchor="end" stroke="#333" stroke-width="0.22" fill="#333" textLength="8.3" lengthAdjust="spacingAndGlyphs">30</text>
<text x="214.8" y="542.3" font-size="8" text-anchor="end" stroke="#333" stroke-width="0.22" fill="#333" textLength="8.3" lengthAdjust="spacingAndGlyphs">40</text>
<text x="228.9" y="636.2" font-size="8.4" text-anchor="middle" stroke="#333" stroke-width="0.22" fill="#333" textLength="4.5" lengthAdjust="spacingAndGlyphs">8</text>
<text x="249.7" y="636.2" font-size="8.4" text-anchor="middle" stroke="#333" stroke-width="0.22" fill="#333" textLength="4.5" lengthAdjust="spacingAndGlyphs">9</text>
<text x="270.5" y="636.2" font-size="8.4" text-anchor="middle" stroke="#333" stroke-width="0.22" fill="#333" textLength="9" lengthAdjust="spacingAndGlyphs">11</text>
<text x="291.3" y="636.2" font-size="8.4" text-anchor="middle" stroke="#333" stroke-width="0.22" fill="#333" textLength="9" lengthAdjust="spacingAndGlyphs">13</text>
<text x="312.1" y="636.2" font-size="8.4" text-anchor="middle" stroke="#333" stroke-width="0.22" fill="#333" textLength="9" lengthAdjust="spacingAndGlyphs">19</text>
<text x="332.9" y="636.2" font-size="8.4" text-anchor="middle" stroke="#333" stroke-width="0.22" fill="#333" textLength="9" lengthAdjust="spacingAndGlyphs">20</text>
<text x="281.3" y="648.6" font-size="10.2" text-anchor="middle" font-weight="bold" stroke="#1a1a1a" stroke-width="0.12" fill="#1a1a1a" textLength="35.5" lengthAdjust="spacingAndGlyphs">Age (pcw)</text>
<rect x="221.9" y="622.77" width="6.8" height="0.63" fill="url(#hatchL)"/>
<rect x="242.7" y="613.95" width="6.8" height="9.45" fill="url(#hatchL)"/>
<rect x="263.5" y="614.79" width="6.8" height="8.61" fill="url(#hatchL)"/>
<rect x="271.4" y="575.94" width="6.3" height="47.46" fill="#9dbd33"/>
<rect x="284.3" y="615.21" width="6.8" height="8.19" fill="url(#hatchL)"/>
<rect x="292.2" y="581.82" width="6.3" height="41.58" fill="#9dbd33"/>
<rect x="305.1" y="619.2" width="6.8" height="4.2" fill="url(#hatchL)"/>
<rect x="313" y="591.48" width="6.3" height="31.92" fill="#9dbd33"/>
<rect x="325.9" y="617.1" width="6.8" height="6.3" fill="url(#hatchL)"/>
<rect x="333.8" y="585.39" width="6.3" height="38.01" fill="#9dbd33"/>
<circle cx="225.3" cy="622.35" r="1.4" fill="#9dbd33" stroke="#45601f" stroke-width="0.6"/>
<rect x="231.25" y="621.85" width="3.1" height="3.1" fill="#9dbd33" stroke="#45601f" stroke-width="0.6"/>
<circle cx="246.1" cy="613.95" r="1.4" fill="#9dbd33" stroke="#45601f" stroke-width="0.6"/>
<rect x="252.05" y="621.85" width="3.1" height="3.1" fill="#9dbd33" stroke="#45601f" stroke-width="0.6"/>
<circle cx="266.9" cy="612.27" r="1.4" fill="#9dbd33" stroke="#45601f" stroke-width="0.6"/>
<circle cx="266.9" cy="616.47" r="1.4" fill="#9dbd33" stroke="#45601f" stroke-width="0.6"/>
<rect x="272.85" y="556.96" width="3.1" height="3.1" fill="#9dbd33" stroke="#45601f" stroke-width="0.6"/>
<rect x="272.85" y="591.19" width="3.1" height="3.1" fill="#9dbd33" stroke="#45601f" stroke-width="0.6"/>
<circle cx="287.7" cy="612.27" r="1.4" fill="#9dbd33" stroke="#45601f" stroke-width="0.6"/>
<circle cx="287.7" cy="618.78" r="1.4" fill="#9dbd33" stroke="#45601f" stroke-width="0.6"/>
<rect x="293.65" y="564.31" width="3.1" height="3.1" fill="#9dbd33" stroke="#45601f" stroke-width="0.6"/>
<rect x="293.65" y="596.44" width="3.1" height="3.1" fill="#9dbd33" stroke="#45601f" stroke-width="0.6"/>
<circle cx="308.5" cy="619.83" r="1.4" fill="#9dbd33" stroke="#45601f" stroke-width="0.6"/>
<rect x="314.45" y="590.35" width="3.1" height="3.1" fill="#9dbd33" stroke="#45601f" stroke-width="0.6"/>
<circle cx="329.3" cy="617.52" r="1.4" fill="#9dbd33" stroke="#45601f" stroke-width="0.6"/>
<rect x="335.25" y="584.05" width="3.1" height="3.1" fill="#9dbd33" stroke="#45601f" stroke-width="0.6"/>
<circle cx="228.4" cy="536.3" r="1.4" fill="#9dbd33" stroke="#45601f" stroke-width="0.6"/>
<rect x="226.85" y="545.25" width="3.1" height="3.1" fill="#9dbd33" stroke="#45601f" stroke-width="0.6"/>
<text x="233.1" y="539" font-size="8.2" text-anchor="start" stroke="#222" stroke-width="0.22" fill="#222" textLength="32" lengthAdjust="spacingAndGlyphs">FL PreProB</text>
<text x="233.1" y="549.5" font-size="8.2" text-anchor="start" stroke="#222" stroke-width="0.22" fill="#222" textLength="40" lengthAdjust="spacingAndGlyphs">FBM PreProB</text>
<text x="202.5" y="583" font-size="10" text-anchor="middle" font-weight="bold" stroke="#1a1a1a" stroke-width="0.12" fill="#1a1a1a" textLength="58" lengthAdjust="spacingAndGlyphs" transform="rotate(-90 202.5 583)">% of Lin2- CD34+</text>
<g stroke="#1a1a1a" fill="none">
<path d="M372.4 537.5 V623.9" stroke-width="1.3"/>
<path d="M371.8 623.3 H494.7" stroke-width="1.3"/>
<path d="M369.4 623.3 H372.4" stroke-width="1"/>
<path d="M369.4 602.5 H372.4" stroke-width="1"/>
<path d="M369.4 581.7 H372.4" stroke-width="1"/>
<path d="M369.4 560.9 H372.4" stroke-width="1"/>
<path d="M369.4 540.1 H372.4" stroke-width="1"/>
<path d="M381.2 623.3 V626.3" stroke-width="1"/>
<path d="M402.34 623.3 V626.3" stroke-width="1"/>
<path d="M423.48 623.3 V626.3" stroke-width="1"/>
<path d="M444.62 623.3 V626.3" stroke-width="1"/>
<path d="M465.76 623.3 V626.3" stroke-width="1"/>
<path d="M486.9 623.3 V626.3" stroke-width="1"/>
</g>
<text x="366.8" y="626.2" font-size="8" text-anchor="end" stroke="#333" stroke-width="0.22" fill="#333" textLength="4.15" lengthAdjust="spacingAndGlyphs">0</text>
<text x="366.8" y="605.4" font-size="8" text-anchor="end" stroke="#333" stroke-width="0.22" fill="#333" textLength="8.3" lengthAdjust="spacingAndGlyphs">10</text>
<text x="366.8" y="584.6" font-size="8" text-anchor="end" stroke="#333" stroke-width="0.22" fill="#333" textLength="8.3" lengthAdjust="spacingAndGlyphs">20</text>
<text x="366.8" y="563.8" font-size="8" text-anchor="end" stroke="#333" stroke-width="0.22" fill="#333" textLength="8.3" lengthAdjust="spacingAndGlyphs">30</text>
<text x="366.8" y="543" font-size="8" text-anchor="end" stroke="#333" stroke-width="0.22" fill="#333" textLength="8.3" lengthAdjust="spacingAndGlyphs">40</text>
<text x="381.2" y="636.2" font-size="8.4" text-anchor="middle" stroke="#333" stroke-width="0.22" fill="#333" textLength="4.5" lengthAdjust="spacingAndGlyphs">8</text>
<text x="402.34" y="636.2" font-size="8.4" text-anchor="middle" stroke="#333" stroke-width="0.22" fill="#333" textLength="4.5" lengthAdjust="spacingAndGlyphs">9</text>
<text x="423.48" y="636.2" font-size="8.4" text-anchor="middle" stroke="#333" stroke-width="0.22" fill="#333" textLength="9" lengthAdjust="spacingAndGlyphs">11</text>
<text x="444.62" y="636.2" font-size="8.4" text-anchor="middle" stroke="#333" stroke-width="0.22" fill="#333" textLength="9" lengthAdjust="spacingAndGlyphs">13</text>
<text x="465.76" y="636.2" font-size="8.4" text-anchor="middle" stroke="#333" stroke-width="0.22" fill="#333" textLength="9" lengthAdjust="spacingAndGlyphs">19</text>
<text x="486.9" y="636.2" font-size="8.4" text-anchor="middle" stroke="#333" stroke-width="0.22" fill="#333" textLength="9" lengthAdjust="spacingAndGlyphs">20</text>
<text x="433.4" y="648.6" font-size="10.2" text-anchor="middle" font-weight="bold" stroke="#1a1a1a" stroke-width="0.12" fill="#1a1a1a" textLength="35.5" lengthAdjust="spacingAndGlyphs">Age (pcw)</text>
<rect x="395.34" y="602.5" width="6.8" height="20.8" fill="url(#hatchD)"/>
<rect x="416.48" y="586.9" width="6.8" height="36.4" fill="url(#hatchD)"/>
<rect x="424.38" y="591.06" width="6.3" height="32.24" fill="#56923c"/>
<rect x="437.62" y="616.23" width="6.8" height="7.07" fill="url(#hatchD)"/>
<rect x="445.52" y="592.1" width="6.3" height="31.2" fill="#56923c"/>
<rect x="458.76" y="616.23" width="6.8" height="7.07" fill="url(#hatchD)"/>
<rect x="466.66" y="554.66" width="6.3" height="68.64" fill="#56923c"/>
<rect x="479.9" y="607.08" width="6.8" height="16.22" fill="url(#hatchD)"/>
<rect x="487.8" y="557.57" width="6.3" height="65.73" fill="#56923c"/>
<circle cx="377.6" cy="623.3" r="1.4" fill="#56923c" stroke="#45601f" stroke-width="0.6"/>
<rect x="383.55" y="621.75" width="3.1" height="3.1" fill="#56923c" stroke="#45601f" stroke-width="0.6"/>
<circle cx="398.74" cy="602.5" r="1.4" fill="#56923c" stroke="#45601f" stroke-width="0.6"/>
<rect x="404.69" y="621.75" width="3.1" height="3.1" fill="#56923c" stroke="#45601f" stroke-width="0.6"/>
<circle cx="419.88" cy="564.44" r="1.4" fill="#56923c" stroke="#45601f" stroke-width="0.6"/>
<circle cx="419.88" cy="609.36" r="1.4" fill="#56923c" stroke="#45601f" stroke-width="0.6"/>
<rect x="425.83" y="587.01" width="3.1" height="3.1" fill="#56923c" stroke="#45601f" stroke-width="0.6"/>
<rect x="425.83" y="592.42" width="3.1" height="3.1" fill="#56923c" stroke="#45601f" stroke-width="0.6"/>
<circle cx="441.02" cy="616.02" r="1.4" fill="#56923c" stroke="#45601f" stroke-width="0.6"/>
<circle cx="441.02" cy="617.48" r="1.4" fill="#56923c" stroke="#45601f" stroke-width="0.6"/>
<rect x="446.97" y="576.41" width="3.1" height="3.1" fill="#56923c" stroke="#45601f" stroke-width="0.6"/>
<rect x="446.97" y="604.9" width="3.1" height="3.1" fill="#56923c" stroke="#45601f" stroke-width="0.6"/>
<circle cx="462.16" cy="616.02" r="1.4" fill="#56923c" stroke="#45601f" stroke-width="0.6"/>
<rect x="468.11" y="553.11" width="3.1" height="3.1" fill="#56923c" stroke="#45601f" stroke-width="0.6"/>
<circle cx="483.3" cy="606.66" r="1.4" fill="#56923c" stroke="#45601f" stroke-width="0.6"/>
<rect x="489.25" y="556.02" width="3.1" height="3.1" fill="#56923c" stroke="#45601f" stroke-width="0.6"/>
<circle cx="380.4" cy="536.6" r="1.4" fill="#56923c" stroke="#45601f" stroke-width="0.6"/>
<rect x="378.85" y="545.55" width="3.1" height="3.1" fill="#56923c" stroke="#45601f" stroke-width="0.6"/>
<text x="385.1" y="539.3" font-size="8.2" text-anchor="start" stroke="#222" stroke-width="0.22" fill="#222" textLength="23" lengthAdjust="spacingAndGlyphs">FL ProB</text>
<text x="385.1" y="549.8" font-size="8.2" text-anchor="start" stroke="#222" stroke-width="0.22" fill="#222" textLength="30" lengthAdjust="spacingAndGlyphs">FBM ProB</text>
<path d="M0.5 0 V663 M0 0.7 H520 M519.4 0 V663" stroke="#000" stroke-width="1.4" fill="none"/>
<rect x="0" y="661.2" width="520" height="1.8" fill="#000"/>
</svg></body></html>
